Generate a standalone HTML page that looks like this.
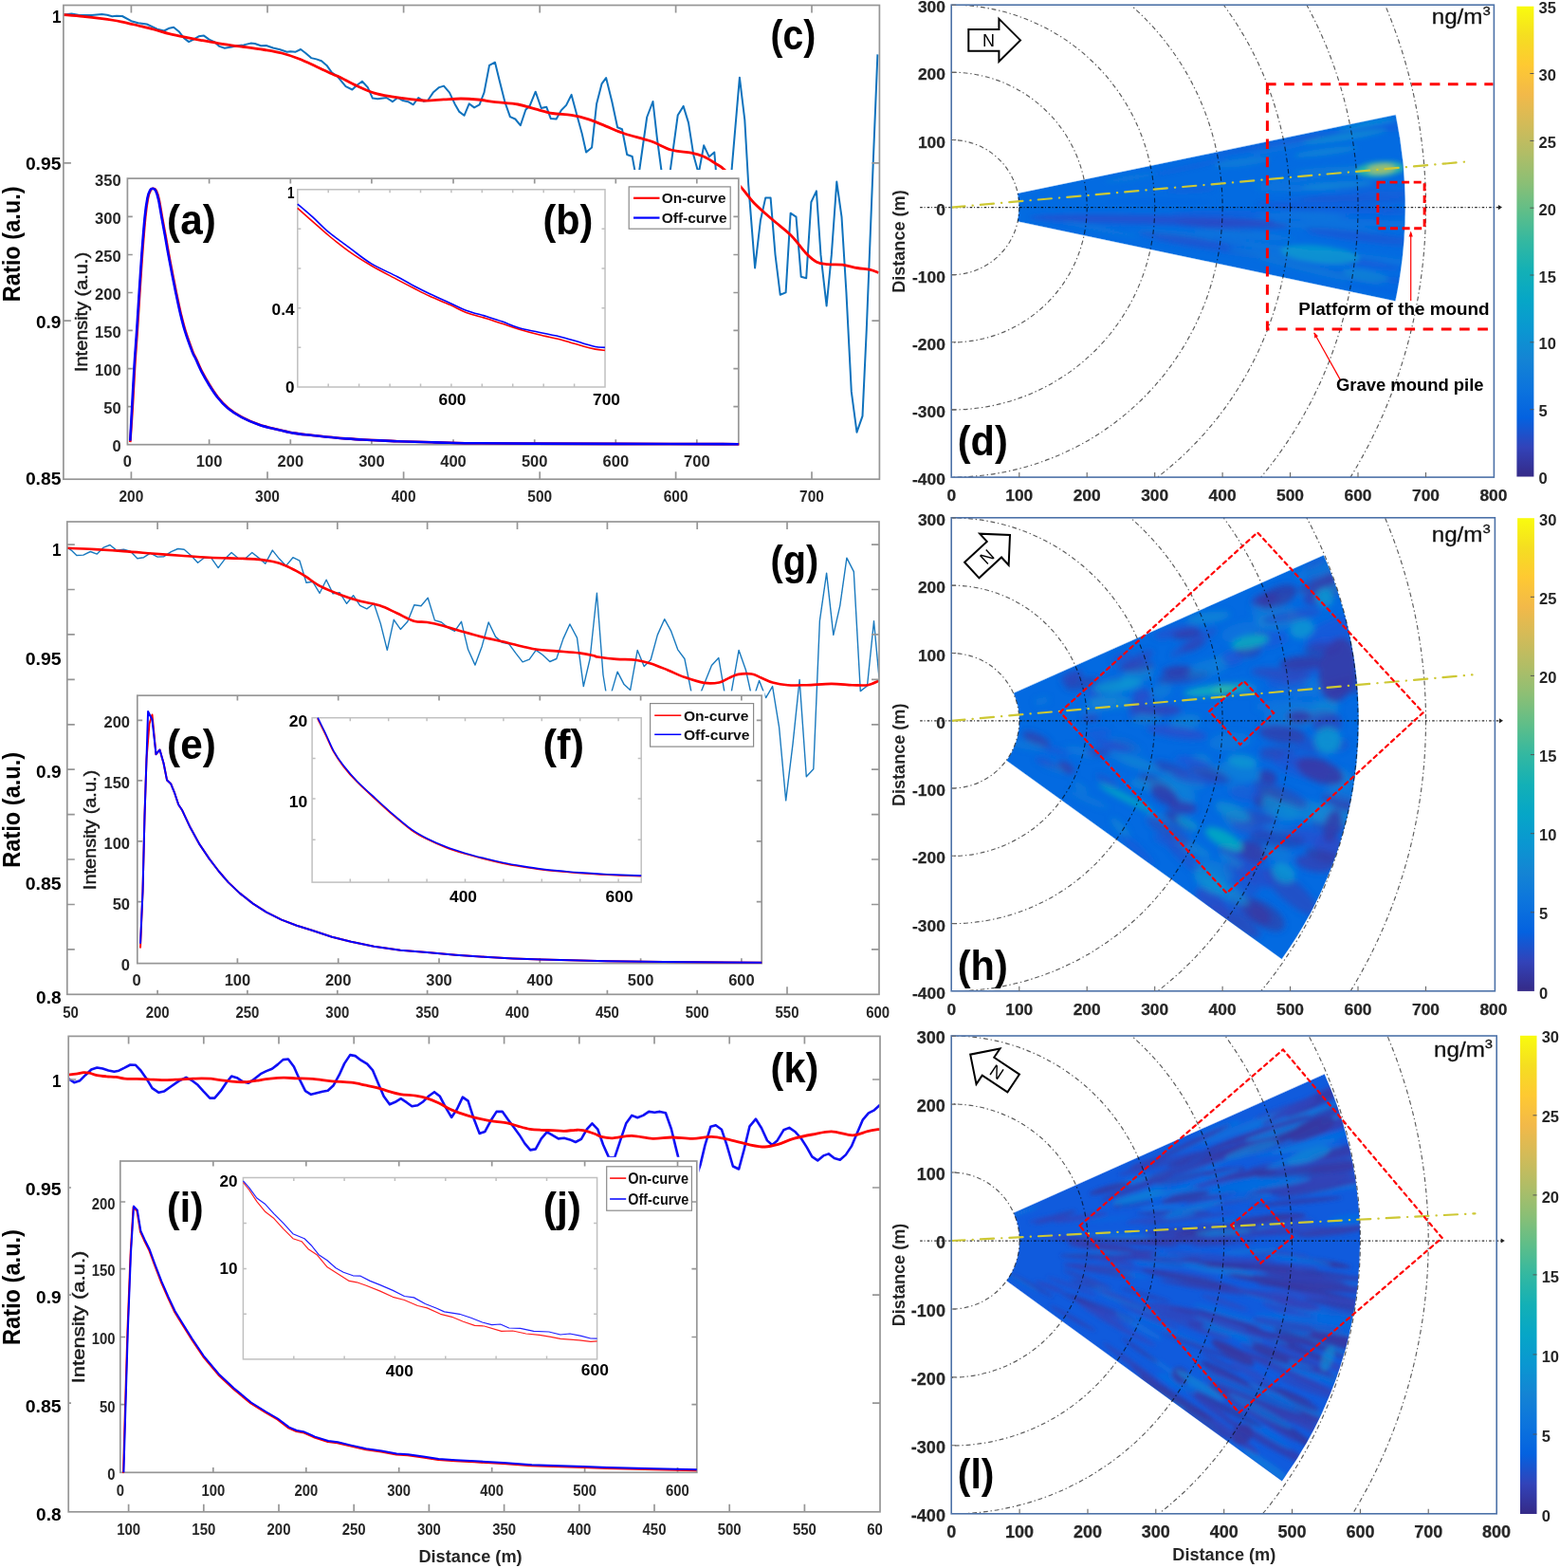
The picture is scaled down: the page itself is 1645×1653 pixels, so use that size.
<!DOCTYPE html>
<html><head><meta charset="utf-8"><title>Figure</title>
<style>
html,body{margin:0;padding:0;background:#fff}
svg{display:block}
text{font-family:"Liberation Sans",sans-serif}
</style></head>
<body>
<svg width="1645" height="1653" viewBox="0 0 1645 1653">
<rect width="1645" height="1653" fill="#fff"/>
<defs>
<clipPath id="cc"><rect x="66.9" y="5.5" width="860.5" height="499.7"/></clipPath>
<clipPath id="ca"><rect x="134.4" y="187.1" width="645.4" height="283.1"/></clipPath>
<clipPath id="cg"><rect x="70.8" y="550.0" width="856.2" height="498.3"/></clipPath>
<clipPath id="ce"><rect x="144.8" y="733.2" width="659.4" height="283.4"/></clipPath>
<clipPath id="ck"><rect x="72.2" y="1092.4" width="855.8" height="501.4"/></clipPath>
<clipPath id="ci"><rect x="126.8" y="1224.0" width="609.0" height="329.3"/></clipPath>
<clipPath id="bxd"><rect x="1003.2" y="5.2" width="572.2" height="497.9"/></clipPath>
<clipPath id="scd"><path d="M1073.0,204.1 L1471.6,121.2 A478.3,478.3 0 0 1 1471.3,317.2 L1073.0,233.3 A71.2,71.2 0 0 0 1073.0,204.1 Z"/></clipPath>
<filter id="bld" x="-20%" y="-20%" width="140%" height="140%"><feGaussianBlur stdDeviation="2.5"/></filter>
<linearGradient id="cbd" x1="0" y1="0" x2="0" y2="1"><stop offset="0.0000" stop-color="#f9fb0e"/><stop offset="0.0625" stop-color="#f5de21"/><stop offset="0.1250" stop-color="#fec932"/><stop offset="0.1875" stop-color="#f2b949"/><stop offset="0.2500" stop-color="#d3bb58"/><stop offset="0.3125" stop-color="#b1bd66"/><stop offset="0.3750" stop-color="#8bbf75"/><stop offset="0.4375" stop-color="#5ebe89"/><stop offset="0.5000" stop-color="#33b8a1"/><stop offset="0.5625" stop-color="#13b0b6"/><stop offset="0.6250" stop-color="#06a6c7"/><stop offset="0.6875" stop-color="#0a97d1"/><stop offset="0.7500" stop-color="#1484d4"/><stop offset="0.8125" stop-color="#0c74dd"/><stop offset="0.8750" stop-color="#0462e0"/><stop offset="0.9375" stop-color="#3243b9"/><stop offset="1.0000" stop-color="#352a87"/></linearGradient>
<clipPath id="bxh"><rect x="1003.2" y="545.8" width="573.2" height="499.0"/></clipPath>
<clipPath id="sch"><path d="M1068.9,730.7 L1395.7,585.5 A429.4,429.4 0 0 1 1351.6,1011.0 L1061.5,801.8 A71.8,71.8 0 0 0 1068.9,730.7 Z"/></clipPath>
<filter id="blh" x="-20%" y="-20%" width="140%" height="140%"><feGaussianBlur stdDeviation="3.4"/></filter>
<linearGradient id="cbh" x1="0" y1="0" x2="0" y2="1"><stop offset="0.0000" stop-color="#f9fb0e"/><stop offset="0.0625" stop-color="#f5de21"/><stop offset="0.1250" stop-color="#fec932"/><stop offset="0.1875" stop-color="#f2b949"/><stop offset="0.2500" stop-color="#d3bb58"/><stop offset="0.3125" stop-color="#b1bd66"/><stop offset="0.3750" stop-color="#8bbf75"/><stop offset="0.4375" stop-color="#5ebe89"/><stop offset="0.5000" stop-color="#33b8a1"/><stop offset="0.5625" stop-color="#13b0b6"/><stop offset="0.6250" stop-color="#06a6c7"/><stop offset="0.6875" stop-color="#0a97d1"/><stop offset="0.7500" stop-color="#1484d4"/><stop offset="0.8125" stop-color="#0c74dd"/><stop offset="0.8750" stop-color="#0462e0"/><stop offset="0.9375" stop-color="#3243b9"/><stop offset="1.0000" stop-color="#352a87"/></linearGradient>
<clipPath id="bxl"><rect x="1003.2" y="1092.0" width="575.0" height="503.8"/></clipPath>
<clipPath id="scl"><path d="M1069.0,1278.7 L1396.7,1132.4 A430.8,430.8 0 0 1 1351.8,1561.2 L1061.5,1350.3 A72.0,72.0 0 0 0 1069.0,1278.7 Z"/></clipPath>
<filter id="bll" x="-20%" y="-20%" width="140%" height="140%"><feGaussianBlur stdDeviation="2.2"/></filter>
<linearGradient id="cbl" x1="0" y1="0" x2="0" y2="1"><stop offset="0.0000" stop-color="#f9fb0e"/><stop offset="0.0625" stop-color="#f5de21"/><stop offset="0.1250" stop-color="#fec932"/><stop offset="0.1875" stop-color="#f2b949"/><stop offset="0.2500" stop-color="#d3bb58"/><stop offset="0.3125" stop-color="#b1bd66"/><stop offset="0.3750" stop-color="#8bbf75"/><stop offset="0.4375" stop-color="#5ebe89"/><stop offset="0.5000" stop-color="#33b8a1"/><stop offset="0.5625" stop-color="#13b0b6"/><stop offset="0.6250" stop-color="#06a6c7"/><stop offset="0.6875" stop-color="#0a97d1"/><stop offset="0.7500" stop-color="#1484d4"/><stop offset="0.8125" stop-color="#0c74dd"/><stop offset="0.8750" stop-color="#0462e0"/><stop offset="0.9375" stop-color="#3243b9"/><stop offset="1.0000" stop-color="#352a87"/></linearGradient>
</defs>
<g clip-path="url(#cc)">
<polyline points="66.9,15.5 75.5,14.6 83.7,16.0 96.5,15.9 107.4,15.1 112.9,15.7 118.4,17.3 122.9,16.8 128.9,17.0 138.4,22.2 145.7,24.3 154.8,25.5 165.8,30.6 173.1,32.5 178.5,29.7 183.1,28.8 188.6,33.2 194.0,40.1 199.1,44.1 204.1,41.6 209.5,38.3 215.0,37.6 220.5,41.6 226.0,44.1 231.4,48.9 236.9,50.7 244.2,49.6 249.7,48.3 257.0,47.4 264.3,45.6 268.8,46.0 275.2,48.3 280.7,48.0 288.0,50.5 295.3,52.3 302.6,54.7 306.2,54.2 311.7,54.7 317.1,52.0 322.6,56.2 328.1,61.1 333.6,62.4 339.0,64.2 344.5,68.9 350.0,76.6 355.4,80.2 364.6,91.2 371.4,94.5 376.5,89.7 381.9,85.7 387.8,92.1 392.9,103.6 398.4,104.3 407.5,103.0 413.9,107.2 419.3,103.0 424.8,106.1 430.3,107.2 435.7,110.3 441.2,103.0 446.7,106.7 451.2,105.8 456.7,97.6 463.1,92.1 468.0,90.6 474.0,97.6 479.5,109.4 484.1,117.6 489.5,121.8 494.7,109.4 500.1,113.4 505.6,110.3 510.5,97.6 516.0,68.9 522.0,65.7 526.9,85.7 532.4,107.6 537.9,123.1 543.3,125.5 548.8,132.2 554.3,115.8 558.8,111.2 564.7,96.7 570.7,114.0 576.2,112.7 580.7,124.9 586.6,125.5 591.7,116.4 597.1,110.9 602.6,99.9 608.1,120.4 613.6,140.4 618.1,160.5 624.1,155.4 629.1,109.4 634.5,88.4 639.1,82.1 645.3,107.0 651.1,134.2 656.0,136.2 661.2,163.0 666.7,165.0 672.1,194.5 682.2,123.5 688.5,107.0 692.9,145.9 702.1,214.0 714.7,121.6 720.6,111.9 726.0,129.4 731.3,163.4 736.7,182.9 742.2,153.3 747.8,165.3 753.3,160.5 760.1,243.2 766.9,233.4 779.9,81.7 785.3,126.4 789.2,194.5 796.1,282.5 801.9,232.5 807.2,208.6 812.6,208.6 817.5,268.5 822.7,310.7 828.6,308.4 833.6,224.7 839.5,228.6 844.7,291.7 850.2,293.2 855.4,213.0 860.9,201.4 865.5,268.9 871.6,322.4 876.8,268.9 882.3,191.6 887.5,228.6 892.4,307.8 897.8,412.9 903.5,455.7 909.5,438.6 913.8,346.7 920.6,175.1 925.4,57.4" fill="none" stroke="#0f72bd" stroke-width="2.0" stroke-linejoin="round" stroke-linecap="butt" />
<path d="M66.9,15.5 C70.3,15.8 80.7,16.6 87.4,17.3 C94.2,18.0 100.7,18.8 107.4,19.7 C114.1,20.6 121.1,21.6 127.5,22.8 C133.9,24.0 139.9,25.6 145.7,27.0 C151.5,28.4 156.6,29.6 162.1,31.0 C167.6,32.4 173.0,34.2 178.5,35.6 C184.0,37.0 189.5,38.1 195.0,39.2 C200.5,40.3 205.9,41.3 211.4,42.3 C216.9,43.3 222.3,44.3 227.8,45.2 C233.3,46.1 238.7,47.0 244.2,47.8 C249.7,48.6 254.8,49.0 260.6,49.8 C266.4,50.6 272.7,51.5 278.8,52.5 C284.9,53.5 291.0,54.4 297.1,56.0 C303.2,57.6 309.2,59.6 315.3,62.0 C321.4,64.4 327.5,67.4 333.6,70.2 C339.7,73.0 347.7,77.0 351.8,78.8 C355.9,80.6 354.1,79.2 358.2,81.2 C362.3,83.2 370.4,87.8 376.5,90.6 C382.6,93.4 388.6,96.2 394.7,98.1 C400.8,100.0 406.8,100.8 412.9,101.8 C419.0,102.8 425.1,103.6 431.2,104.3 C437.3,105.0 443.3,106.0 449.4,106.1 C455.5,106.2 461.6,105.2 467.7,104.9 C473.8,104.6 479.8,104.0 485.9,104.0 C492.0,104.0 498.0,104.4 504.1,105.0 C510.2,105.6 515.4,106.8 522.4,107.6 C529.4,108.4 539.1,108.8 546.1,110.0 C553.1,111.2 558.2,113.3 564.3,114.9 C570.4,116.5 576.2,118.4 582.6,119.5 C589.0,120.6 596.2,120.2 602.6,121.3 C609.0,122.3 614.8,123.8 620.9,125.8 C627.0,127.8 632.8,130.6 639.1,133.1 C645.4,135.6 651.1,138.4 658.9,141.0 C666.7,143.6 678.0,146.0 686.1,148.8 C694.2,151.6 700.4,155.9 707.5,158.0 C714.6,160.1 723.0,159.9 728.9,161.1 C734.8,162.3 738.4,163.5 742.6,165.3 C746.8,167.2 750.6,169.9 754.2,172.2 C757.8,174.5 759.5,174.8 764.0,179.0 C768.5,183.2 776.3,191.6 781.5,197.4 C786.7,203.2 789.6,208.3 795.1,214.0 C800.6,219.7 808.0,225.8 814.5,231.5 C821.0,237.2 828.2,242.2 834.0,248.0 C839.8,253.8 845.0,261.8 849.5,266.5 C854.0,271.2 857.3,274.2 861.2,276.2 C865.1,278.2 868.4,278.1 872.9,278.6 C877.4,279.1 883.2,278.5 888.4,279.1 C893.6,279.8 899.1,281.6 904.0,282.5 C908.9,283.4 913.9,283.6 917.6,284.4 C921.3,285.2 924.9,287.0 926.4,287.5" fill="none" stroke="#ff0000" stroke-width="2.8" stroke-linejoin="round" />
</g>
<rect x="66.9" y="5.5" width="860.5" height="499.7" fill="none" stroke="#969696" stroke-width="1.7"/>
<path d="M138.4,505.2v-8M138.4,5.5v8M282.0,505.2v-8M282.0,5.5v8M425.6,505.2v-8M425.6,5.5v8M569.2,505.2v-8M569.2,5.5v8M712.6,505.2v-8M712.6,5.5v8M856.0,505.2v-8M856.0,5.5v8M66.9,171.8h8M927.4,171.8h-8M66.9,338.1h8M927.4,338.1h-8" stroke="#969696" stroke-width="1.7" fill="none"/>
<text transform="translate(138.4,529.4) scale(0.92,1)" font-size="16.8" font-weight="bold" text-anchor="middle" fill="#262626">200</text>
<text transform="translate(282.0,529.4) scale(0.92,1)" font-size="16.8" font-weight="bold" text-anchor="middle" fill="#262626">300</text>
<text transform="translate(425.6,529.4) scale(0.92,1)" font-size="16.8" font-weight="bold" text-anchor="middle" fill="#262626">400</text>
<text transform="translate(569.2,529.4) scale(0.92,1)" font-size="16.8" font-weight="bold" text-anchor="middle" fill="#262626">500</text>
<text transform="translate(712.6,529.4) scale(0.92,1)" font-size="16.8" font-weight="bold" text-anchor="middle" fill="#262626">600</text>
<text transform="translate(856.0,529.4) scale(0.92,1)" font-size="16.8" font-weight="bold" text-anchor="middle" fill="#262626">700</text>
<text x="54.900000000000006" y="24.3" font-size="17.6" font-weight="bold" fill="#000" textLength="9.5" lengthAdjust="spacingAndGlyphs">1</text>
<text x="26.900000000000006" y="178.6" font-size="17.6" font-weight="bold" fill="#000" textLength="37.5" lengthAdjust="spacingAndGlyphs">0.95</text>
<text x="37.900000000000006" y="345.6" font-size="17.6" font-weight="bold" fill="#000" textLength="26.5" lengthAdjust="spacingAndGlyphs">0.9</text>
<text x="26.900000000000006" y="510.6" font-size="17.6" font-weight="bold" fill="#000" textLength="37.5" lengthAdjust="spacingAndGlyphs">0.85</text>
<text transform="translate(20.6,257.3) rotate(-90)" font-size="26" font-weight="bold" text-anchor="middle" fill="#000000" textLength="122" lengthAdjust="spacingAndGlyphs">Ratio (a.u.)</text>
<text x="812.6" y="51.5" font-size="45" font-weight="bold" fill="#000" textLength="47.7" lengthAdjust="spacingAndGlyphs">(c)</text>
<rect x="76" y="179" width="705.3" height="317" fill="#fff"/>
<rect x="134.4" y="188.1" width="644.4" height="280.6" fill="none" stroke="#969696" stroke-width="1.7"/>
<path d="M220.6,468.7v-5.4M220.6,188.1v5.4M306.3,468.7v-5.4M306.3,188.1v5.4M391.9,468.7v-5.4M391.9,188.1v5.4M478.0,468.7v-5.4M478.0,188.1v5.4M563.7,468.7v-5.4M563.7,188.1v5.4M649.3,468.7v-5.4M649.3,188.1v5.4M734.8,468.7v-5.4M734.8,188.1v5.4M134.4,228.4h5.4M778.8,228.4h-5.4M134.4,268.5h5.4M778.8,268.5h-5.4M134.4,308.5h5.4M778.8,308.5h-5.4M134.4,348.3h5.4M778.8,348.3h-5.4M134.4,388.6h5.4M778.8,388.6h-5.4M134.4,428.7h5.4M778.8,428.7h-5.4" stroke="#969696" stroke-width="1.7" fill="none"/>
<g clip-path="url(#ca)">
<path d="M137.3,466.1 C137.7,460.2 138.9,443.4 139.7,430.5 C140.5,417.6 141.2,402.4 142.0,388.7 C142.8,375.0 143.9,361.7 144.8,348.4 C145.7,335.1 146.4,322.2 147.3,308.9 C148.2,295.6 149.0,282.0 150.0,268.6 C151.0,255.2 152.3,238.4 153.3,228.5 C154.3,218.6 155.1,213.7 156.0,209.0 C156.9,204.3 157.9,202.0 158.9,200.3 C159.9,198.6 160.8,198.6 161.8,198.7 C162.8,198.8 163.7,198.9 164.7,200.9 C165.7,202.9 166.8,206.3 167.8,210.9 C168.8,215.5 169.8,222.3 170.9,228.5 C172.0,234.7 173.3,241.4 174.5,248.1 C175.7,254.8 176.8,261.8 178.1,268.6 C179.3,275.4 180.7,282.2 182.0,288.9 C183.3,295.6 184.6,302.1 186.0,308.9 C187.4,315.7 188.9,323.1 190.5,329.7 C192.1,336.3 193.3,341.6 195.4,348.4 C197.5,355.2 201.3,365.6 203.2,370.6 C205.1,375.6 205.3,374.9 207.0,378.5 C208.7,382.1 211.1,387.9 213.4,392.4 C215.7,396.8 218.0,400.8 220.7,405.2 C223.4,409.6 226.5,414.5 229.8,418.7 C233.1,422.9 236.4,426.7 240.7,430.2 C244.9,433.7 249.8,436.9 255.3,439.8 C260.8,442.7 267.5,445.6 273.6,447.7 C279.7,449.8 285.7,451.1 291.8,452.6 C297.9,454.1 303.9,455.6 310.0,456.6 C316.1,457.6 322.2,458.1 328.3,458.8 C334.4,459.5 340.4,460.2 346.5,460.8 C352.6,461.4 358.6,461.9 364.7,462.4 C370.8,462.8 376.9,463.2 383.0,463.5 C389.1,463.8 395.1,464.1 401.2,464.4 C407.3,464.7 413.4,465.0 419.5,465.2 C425.6,465.4 431.6,465.5 437.7,465.7 C443.8,465.9 449.8,466.1 455.9,466.3 C462.0,466.5 466.8,466.7 474.2,466.8 C481.7,466.9 486.2,467.1 500.6,467.2 C515.0,467.3 535.6,467.5 560.6,467.6 C585.6,467.7 614.1,467.8 650.6,467.9 C687.1,468.0 757.9,468.1 779.4,468.2" fill="none" stroke="#ff0000" stroke-width="2.6" stroke-linejoin="round" />
<path d="M137.3,464.6 C137.6,458.9 138.4,443.1 139.1,430.5 C139.8,417.9 140.6,402.4 141.4,388.7 C142.2,375.0 143.3,361.7 144.2,348.4 C145.1,335.1 145.8,322.2 146.7,308.9 C147.6,295.6 148.4,282.0 149.4,268.6 C150.4,255.2 151.7,238.4 152.7,228.5 C153.7,218.6 154.5,213.7 155.4,209.0 C156.3,204.3 157.3,202.0 158.3,200.3 C159.3,198.6 160.2,198.6 161.2,198.7 C162.2,198.8 163.1,198.9 164.1,200.9 C165.1,202.9 166.2,206.3 167.2,210.9 C168.2,215.5 169.2,222.3 170.3,228.5 C171.4,234.7 172.7,241.4 173.9,248.1 C175.1,254.8 176.2,261.8 177.5,268.6 C178.8,275.4 180.1,282.2 181.4,288.9 C182.7,295.6 184.0,302.1 185.4,308.9 C186.8,315.7 188.3,323.1 189.9,329.7 C191.5,336.3 192.7,341.6 194.8,348.4 C196.9,355.2 200.7,365.6 202.6,370.6 C204.5,375.6 204.7,374.9 206.4,378.5 C208.1,382.1 210.5,387.9 212.8,392.4 C215.1,396.8 217.4,400.8 220.1,405.2 C222.8,409.6 225.9,414.5 229.2,418.7 C232.5,422.9 235.8,426.7 240.1,430.2 C244.3,433.7 249.2,436.9 254.7,439.8 C260.2,442.7 266.9,445.6 273.0,447.7 C279.1,449.8 285.1,451.1 291.2,452.6 C297.3,454.1 303.3,455.6 309.4,456.6 C315.5,457.6 321.6,458.1 327.7,458.8 C333.8,459.5 339.8,460.2 345.9,460.8 C352.0,461.4 358.0,461.9 364.1,462.4 C370.2,462.8 376.3,463.2 382.4,463.5 C388.5,463.8 394.5,464.1 400.6,464.4 C406.7,464.7 412.8,465.0 418.9,465.2 C425.0,465.4 431.0,465.5 437.1,465.7 C443.2,465.9 449.2,466.1 455.3,466.3 C461.4,466.5 466.2,466.7 473.6,466.8 C481.1,466.9 485.6,467.1 500.0,467.2 C514.4,467.3 535.0,467.5 560.0,467.6 C585.0,467.7 613.5,467.8 650.0,467.9 C686.5,468.0 757.3,468.1 778.8,468.2" fill="none" stroke="#0000ff" stroke-width="2.6" stroke-linejoin="round" />
</g>
<text x="134.4" y="492.2" font-size="16.5" font-weight="bold" text-anchor="middle" fill="#262626">0</text>
<text x="220.6" y="492.2" font-size="16.5" font-weight="bold" text-anchor="middle" fill="#262626">100</text>
<text x="306.3" y="492.2" font-size="16.5" font-weight="bold" text-anchor="middle" fill="#262626">200</text>
<text x="391.9" y="492.2" font-size="16.5" font-weight="bold" text-anchor="middle" fill="#262626">300</text>
<text x="478.0" y="492.2" font-size="16.5" font-weight="bold" text-anchor="middle" fill="#262626">400</text>
<text x="563.7" y="492.2" font-size="16.5" font-weight="bold" text-anchor="middle" fill="#262626">500</text>
<text x="649.3" y="492.2" font-size="16.5" font-weight="bold" text-anchor="middle" fill="#262626">600</text>
<text x="734.8" y="492.2" font-size="16.5" font-weight="bold" text-anchor="middle" fill="#262626">700</text>
<text x="127.6" y="195.5" font-size="16.5" font-weight="bold" text-anchor="end" fill="#262626">350</text>
<text x="127.6" y="235.8" font-size="16.5" font-weight="bold" text-anchor="end" fill="#262626">300</text>
<text x="127.6" y="275.9" font-size="16.5" font-weight="bold" text-anchor="end" fill="#262626">250</text>
<text x="127.6" y="315.9" font-size="16.5" font-weight="bold" text-anchor="end" fill="#262626">200</text>
<text x="127.6" y="355.7" font-size="16.5" font-weight="bold" text-anchor="end" fill="#262626">150</text>
<text x="127.6" y="396.0" font-size="16.5" font-weight="bold" text-anchor="end" fill="#262626">100</text>
<text x="127.6" y="436.1" font-size="16.5" font-weight="bold" text-anchor="end" fill="#262626">50</text>
<text x="127.6" y="476.1" font-size="16.5" font-weight="bold" text-anchor="end" fill="#262626">0</text>
<text transform="translate(91.6,329.0) rotate(-90)" font-size="19" font-weight="normal" text-anchor="middle" fill="#1a1a1a" stroke="#1a1a1a" stroke-width="0.45" textLength="126" lengthAdjust="spacingAndGlyphs">Intensity (a.u.)</text>
<text x="176.1" y="247.0" font-size="45" font-weight="bold" fill="#000" textLength="51.6" lengthAdjust="spacingAndGlyphs">(a)</text>
<rect x="663.2" y="196.9" width="107.0" height="44.3" fill="#fff" stroke="#8a8a8a" stroke-width="1.2"/>
<path d="M668,208.8H695.5" stroke="#ff0000" stroke-width="2.2"/>
<path d="M668,229.6H695.5" stroke="#0000ff" stroke-width="2.2"/>
<text x="697.8" y="214.3" font-size="15.4" font-weight="bold" fill="#111" textLength="67.7" lengthAdjust="spacingAndGlyphs">On-curve</text>
<text x="697.8" y="235.1" font-size="15.4" font-weight="bold" fill="#111" textLength="68.7" lengthAdjust="spacingAndGlyphs">Off-curve</text>
<rect x="313.8" y="199.8" width="324.2" height="208.2" fill="none" stroke="#c0c0c0" stroke-width="1.5"/>
<path d="M346.2,408.0v-3.5M346.2,199.8v3.5M378.6,408.0v-3.5M378.6,199.8v3.5M411.1,408.0v-3.5M411.1,199.8v3.5M443.5,408.0v-3.5M443.5,199.8v3.5M475.9,408.0v-3.5M475.9,199.8v3.5M508.3,408.0v-3.5M508.3,199.8v3.5M540.7,408.0v-3.5M540.7,199.8v3.5M573.2,408.0v-3.5M573.2,199.8v3.5M605.6,408.0v-3.5M605.6,199.8v3.5M313.8,241.3h3.5M638.0,241.3h-3.5M313.8,282.9h3.5M638.0,282.9h-3.5M313.8,324.8h3.5M638.0,324.8h-3.5M313.8,366.3h3.5M638.0,366.3h-3.5" stroke="#c0c0c0" stroke-width="1.5" fill="none"/>
<path d="M313.8,219.4 C316.5,221.8 324.3,228.8 329.8,233.6 C335.3,238.4 340.4,243.2 346.8,248.5 C353.2,253.8 360.7,259.9 368.1,265.1 C375.6,270.4 383.0,275.0 391.5,280.0 C400.0,285.0 411.7,290.9 419.1,294.9 C426.6,298.9 430.5,300.9 436.2,303.8 C441.9,306.7 446.8,309.4 453.2,312.3 C459.6,315.2 468.1,318.5 474.5,321.3 C480.9,324.1 485.1,327.0 491.5,329.4 C497.9,331.8 506.4,333.7 512.8,335.7 C519.2,337.7 524.1,339.4 529.8,341.3 C535.5,343.2 540.4,345.1 546.8,347.0 C553.2,348.9 560.3,350.9 568.1,352.8 C575.9,354.8 585.8,356.6 593.6,358.7 C601.4,360.8 609.2,363.5 614.9,365.1 C620.6,366.7 623.9,367.4 627.7,368.1 C631.5,368.8 636.2,369.2 637.9,369.4" fill="none" stroke="#ff0000" stroke-width="1.6" stroke-linejoin="round" />
<path d="M313.8,215.1 C316.5,217.4 324.3,223.9 329.8,228.9 C335.3,233.9 340.4,239.6 346.8,244.9 C353.2,250.2 360.7,255.4 368.1,260.9 C375.6,266.4 383.0,272.8 391.5,277.9 C400.0,283.0 411.7,287.8 419.1,291.7 C426.6,295.6 430.5,298.3 436.2,301.3 C441.9,304.3 446.8,306.8 453.2,309.8 C459.6,312.8 468.1,316.5 474.5,319.4 C480.9,322.3 485.1,324.8 491.5,327.2 C497.9,329.6 506.4,331.6 512.8,333.6 C519.2,335.6 524.1,337.1 529.8,339.1 C535.5,341.1 540.4,343.6 546.8,345.5 C553.2,347.4 560.3,348.5 568.1,350.2 C575.9,351.9 585.8,353.8 593.6,355.7 C601.4,357.6 609.2,360.3 614.9,361.9 C620.6,363.5 623.9,364.8 627.7,365.5 C631.5,366.2 636.2,366.2 637.9,366.4" fill="none" stroke="#0000ff" stroke-width="1.6" stroke-linejoin="round" />
<text x="303.1" y="208.6" font-size="16.5" font-weight="bold" fill="#000" textLength="7.5" lengthAdjust="spacingAndGlyphs">1</text>
<text x="286.6" y="332.4" font-size="16.5" font-weight="bold" fill="#000" textLength="24" lengthAdjust="spacingAndGlyphs">0.4</text>
<text x="301.1" y="414.2" font-size="16.5" font-weight="bold" fill="#000" textLength="9.5" lengthAdjust="spacingAndGlyphs">0</text>
<text x="462.5" y="427.2" font-size="16.8" font-weight="bold" fill="#000" textLength="29" lengthAdjust="spacingAndGlyphs">600</text>
<text x="625.0" y="427.2" font-size="16.8" font-weight="bold" fill="#000" textLength="29" lengthAdjust="spacingAndGlyphs">700</text>
<text x="572.5" y="246.5" font-size="45" font-weight="bold" fill="#000" textLength="52.9" lengthAdjust="spacingAndGlyphs">(b)</text>
<g clip-path="url(#cg)">
<polyline points="70.8,577.1 75.2,580.1 80.8,585.5 87.9,585.1 95.3,581.5 102.3,584.1 109.3,577.1 116.0,574.5 122.8,580.1 130.4,579.1 137.4,581.1 144.8,588.7 151.5,587.7 158.5,583.1 166.1,587.1 172.9,586.7 180.5,581.7 187.6,578.5 194.2,579.3 201.6,585.7 208.6,593.2 215.7,587.7 222.7,588.1 230.1,598.6 237.3,589.1 244.1,582.5 251.4,588.7 258.8,588.7 265.8,582.5 272.8,588.1 279.8,594.2 287.3,580.1 294.5,589.1 301.5,596.6 308.9,587.7 316.0,591.2 323.0,614.2 329.7,613.2 337.1,625.3 344.1,611.2 351.1,625.9 358.1,624.7 365.6,636.3 372.6,627.7 379.6,638.3 386.8,641.9 394.3,636.3 401.3,657.4 408.3,685.4 415.3,653.3 422.3,663.4 429.8,655.3 436.8,637.7 444.0,638.7 451.2,630.3 458.4,653.9 465.5,656.0 472.5,661.8 479.5,665.4 486.5,655.3 493.6,684.8 501.0,701.1 508.2,681.4 515.2,656.0 522.6,671.4 529.7,677.4 536.7,678.8 543.7,688.4 551.1,697.9 558.2,695.1 565.2,685.4 572.4,690.5 579.8,697.5 586.8,694.5 593.9,673.4 600.9,658.0 608.5,672.4 615.3,723.6 622.1,694.5 629.4,625.3 636.0,711.5 641.1,742.6 651.1,708.1 658.1,721.6 664.6,727.6 672.2,685.4 679.2,702.5 686.2,695.5 693.3,669.4 700.7,652.7 707.7,665.4 714.7,684.8 721.9,694.5 732.4,746.6 750.4,701.5 757.8,693.5 767.5,750.6 779.1,685.4 786.5,706.5 793.6,738.6 800.6,717.5 807.6,735.6 814.6,723.6 821.6,766.7 828.7,843.9 836.1,783.7 843.1,716.5 850.3,818.8 857.8,810.8 864.4,654.3 871.6,604.2 878.8,669.4 885.8,638.3 892.9,588.1 900.3,602.6 907.3,728.6 914.5,723.0 921.5,654.7 927.0,714.5" fill="none" stroke="#1a7abf" stroke-width="1.4" stroke-linejoin="round" stroke-linecap="butt" />
<path d="M70.8,577.7 C75.7,577.9 90.4,578.5 100.3,579.1 C110.2,579.7 120.4,580.4 130.4,581.1 C140.4,581.8 150.5,582.7 160.5,583.5 C170.5,584.3 180.6,585.0 190.6,585.7 C200.6,586.4 210.7,587.2 220.7,587.7 C230.7,588.2 242.5,588.4 250.8,588.7 C259.2,589.0 264.5,589.0 270.8,589.6 C277.1,590.2 283.9,591.1 288.9,592.2 C293.9,593.3 296.9,594.5 300.9,596.2 C304.9,597.9 309.2,600.2 312.9,602.2 C316.6,604.2 318.8,605.5 323.0,608.2 C327.2,610.9 332.2,615.1 338.1,618.2 C344.0,621.3 351.4,624.2 358.1,626.7 C364.8,629.2 371.2,631.4 378.2,633.3 C385.2,635.2 393.6,636.1 400.3,638.3 C407.0,640.5 412.3,643.6 418.3,646.3 C424.3,649.0 431.0,653.1 436.4,654.7 C441.8,656.3 445.4,655.2 450.4,656.0 C455.4,656.8 460.5,657.8 466.5,659.4 C472.5,661.0 479.1,663.3 486.5,665.4 C493.9,667.5 502.6,670.0 510.6,672.0 C518.6,674.0 528.0,675.8 534.7,677.4 C541.4,679.0 545.4,680.2 550.7,681.4 C556.1,682.6 560.8,684.0 566.8,684.8 C572.8,685.6 579.4,685.8 586.8,686.4 C594.1,687.0 604.2,687.5 610.9,688.4 C617.6,689.2 623.8,690.8 627.0,691.5 C630.2,692.2 626.2,691.9 630.1,692.5 C634.0,693.1 643.4,694.4 650.1,694.9 C656.8,695.4 664.2,694.9 670.2,695.7 C676.2,696.5 680.5,697.7 686.2,699.5 C691.9,701.3 698.3,704.1 704.3,706.5 C710.3,708.9 715.9,711.9 722.3,714.1 C728.6,716.3 736.4,719.0 742.4,719.9 C748.4,720.8 754.0,720.3 758.4,719.5 C762.8,718.7 765.1,716.3 768.5,714.9 C771.9,713.5 774.5,711.6 778.5,710.9 C782.5,710.2 788.6,709.9 792.6,710.5 C796.6,711.1 798.9,713.0 802.6,714.5 C806.3,716.0 809.9,718.2 814.6,719.5 C819.3,720.8 824.7,721.8 830.7,722.2 C836.7,722.7 843.0,722.4 850.7,722.2 C858.4,722.0 868.8,720.9 876.8,720.9 C884.8,720.9 892.5,722.0 898.9,722.2 C905.2,722.4 910.2,723.0 914.9,722.2 C919.6,721.4 925.0,718.3 927.0,717.5" fill="none" stroke="#ff0000" stroke-width="2.6" stroke-linejoin="round" />
</g>
<rect x="70.8" y="550.0" width="856.2" height="498.3" fill="none" stroke="#969696" stroke-width="1.7"/>
<path d="M166.1,1048.3v-8M166.1,550.0v8M260.9,1048.3v-8M260.9,550.0v8M355.8,1048.3v-8M355.8,550.0v8M450.6,1048.3v-8M450.6,550.0v8M545.5,1048.3v-8M545.5,550.0v8M640.4,1048.3v-8M640.4,550.0v8M735.2,1048.3v-8M735.2,550.0v8M830.0,1048.3v-8M830.0,550.0v8M70.8,574.1h8M927.0,574.1h-8M70.8,621.5h8M927.0,621.5h-8M70.8,668.9h8M927.0,668.9h-8M70.8,716.4h8M927.0,716.4h-8M70.8,763.8h8M927.0,763.8h-8M70.8,811.2h8M927.0,811.2h-8M70.8,858.6h8M927.0,858.6h-8M70.8,906.0h8M927.0,906.0h-8M70.8,953.5h8M927.0,953.5h-8M70.8,1000.9h8M927.0,1000.9h-8" stroke="#969696" stroke-width="1.7" fill="none"/>
<text transform="translate(74.6,1073.2) scale(0.89,1)" font-size="16.8" font-weight="bold" text-anchor="middle" fill="#262626">50</text>
<text transform="translate(166.1,1073.2) scale(0.89,1)" font-size="16.8" font-weight="bold" text-anchor="middle" fill="#262626">200</text>
<text transform="translate(260.9,1073.2) scale(0.89,1)" font-size="16.8" font-weight="bold" text-anchor="middle" fill="#262626">250</text>
<text transform="translate(355.8,1073.2) scale(0.89,1)" font-size="16.8" font-weight="bold" text-anchor="middle" fill="#262626">300</text>
<text transform="translate(450.6,1073.2) scale(0.89,1)" font-size="16.8" font-weight="bold" text-anchor="middle" fill="#262626">350</text>
<text transform="translate(545.5,1073.2) scale(0.89,1)" font-size="16.8" font-weight="bold" text-anchor="middle" fill="#262626">400</text>
<text transform="translate(640.4,1073.2) scale(0.89,1)" font-size="16.8" font-weight="bold" text-anchor="middle" fill="#262626">450</text>
<text transform="translate(735.2,1073.2) scale(0.89,1)" font-size="16.8" font-weight="bold" text-anchor="middle" fill="#262626">500</text>
<text transform="translate(830.0,1073.2) scale(0.89,1)" font-size="16.8" font-weight="bold" text-anchor="middle" fill="#262626">550</text>
<text transform="translate(925.6,1073.2) scale(0.89,1)" font-size="16.8" font-weight="bold" text-anchor="middle" fill="#262626">600</text>
<text x="55.099999999999994" y="585.8" font-size="17.6" font-weight="bold" fill="#000" textLength="9.5" lengthAdjust="spacingAndGlyphs">1</text>
<text x="26.699999999999996" y="700.8" font-size="17.6" font-weight="bold" fill="#000" textLength="37.9" lengthAdjust="spacingAndGlyphs">0.95</text>
<text x="38.099999999999994" y="819.5" font-size="17.6" font-weight="bold" fill="#000" textLength="26.5" lengthAdjust="spacingAndGlyphs">0.9</text>
<text x="26.699999999999996" y="937.8" font-size="17.6" font-weight="bold" fill="#000" textLength="37.9" lengthAdjust="spacingAndGlyphs">0.85</text>
<text x="38.099999999999994" y="1058.2" font-size="17.6" font-weight="bold" fill="#000" textLength="26.5" lengthAdjust="spacingAndGlyphs">0.8</text>
<text transform="translate(20.6,853.8) rotate(-90)" font-size="26" font-weight="bold" text-anchor="middle" fill="#000000" textLength="122" lengthAdjust="spacingAndGlyphs">Ratio (a.u.)</text>
<text x="812.6" y="606.0" font-size="45" font-weight="bold" fill="#000" textLength="50.6" lengthAdjust="spacingAndGlyphs">(g)</text>
<rect x="80" y="728.4" width="726.5" height="315.4" fill="#fff"/>
<rect x="144.8" y="733.2" width="658.4" height="282.4" fill="none" stroke="#969696" stroke-width="1.7"/>
<path d="M250.4,1015.6v-5.4M250.4,733.2v5.4M356.7,1015.6v-5.4M356.7,733.2v5.4M463.0,1015.6v-5.4M463.0,733.2v5.4M569.3,1015.6v-5.4M569.3,733.2v5.4M675.6,1015.6v-5.4M675.6,733.2v5.4M781.9,1015.6v-5.4M781.9,733.2v5.4M144.8,759.3h5.4M803.2,759.3h-5.4M144.8,822.9h5.4M803.2,822.9h-5.4M144.8,886.8h5.4M803.2,886.8h-5.4M144.8,950.6h5.4M803.2,950.6h-5.4" stroke="#969696" stroke-width="1.7" fill="none"/>
<g clip-path="url(#ce)">
<polyline points="148.0,999.5 150.5,940.0 152.5,860.0 154.5,800.0 157.5,763.0 160.5,753.5 164.5,795.2 168.5,790.5 172.5,804.5 176.1,822.6 180.1,826.2 184.2,836.2 188.2,848.3 192.2,854.3 200.6,872.3 210.6,890.4 220.7,905.4 230.7,918.5 240.7,930.1 252.8,941.6 266.8,952.6 280.9,961.6 296.9,969.6 312.9,975.7 329.0,980.7 350.1,987.7 370.2,992.7 394.3,997.7 422.3,1001.7 450.4,1004.1 480.5,1006.7 510.6,1008.8 540.7,1010.4 570.8,1011.4 600.9,1012.2 640.0,1013.2 700.0,1014.0 803.2,1014.8" fill="none" stroke="#ff0000" stroke-width="2.0" stroke-linejoin="round" stroke-linecap="butt" />
<polyline points="148.0,994.7 150.5,940.0 152.5,860.0 154.5,800.0 156.1,750.0 160.5,758.7 164.5,795.2 168.5,790.5 172.5,804.5 176.1,822.6 180.1,826.2 184.2,836.2 188.2,848.3 192.2,854.3 200.6,872.3 210.6,890.4 220.7,905.4 230.7,918.5 240.7,930.1 252.8,941.6 266.8,952.6 280.9,961.6 296.9,969.6 312.9,975.7 329.0,980.7 350.1,987.7 370.2,992.7 394.3,997.7 422.3,1001.7 450.4,1004.1 480.5,1006.7 510.6,1008.8 540.7,1010.4 570.8,1011.4 600.9,1012.2 640.0,1013.2 700.0,1014.0 803.2,1014.8" fill="none" stroke="#0000ff" stroke-width="2.0" stroke-linejoin="round" stroke-linecap="butt" />
</g>
<text x="144.2" y="1039.3" font-size="16.5" font-weight="bold" text-anchor="middle" fill="#262626">0</text>
<text x="250.4" y="1039.3" font-size="16.5" font-weight="bold" text-anchor="middle" fill="#262626">100</text>
<text x="356.7" y="1039.3" font-size="16.5" font-weight="bold" text-anchor="middle" fill="#262626">200</text>
<text x="463.0" y="1039.3" font-size="16.5" font-weight="bold" text-anchor="middle" fill="#262626">300</text>
<text x="569.3" y="1039.3" font-size="16.5" font-weight="bold" text-anchor="middle" fill="#262626">400</text>
<text x="675.6" y="1039.3" font-size="16.5" font-weight="bold" text-anchor="middle" fill="#262626">500</text>
<text x="781.9" y="1039.3" font-size="16.5" font-weight="bold" text-anchor="middle" fill="#262626">600</text>
<text x="137.0" y="766.6" font-size="16.5" font-weight="bold" text-anchor="end" fill="#262626">200</text>
<text x="137.0" y="830.5" font-size="16.5" font-weight="bold" text-anchor="end" fill="#262626">150</text>
<text x="137.0" y="894.7" font-size="16.5" font-weight="bold" text-anchor="end" fill="#262626">100</text>
<text x="137.0" y="958.9" font-size="16.5" font-weight="bold" text-anchor="end" fill="#262626">50</text>
<text x="137.0" y="1022.5" font-size="16.5" font-weight="bold" text-anchor="end" fill="#262626">0</text>
<text transform="translate(100.8,875.0) rotate(-90)" font-size="19" font-weight="normal" text-anchor="middle" fill="#1a1a1a" stroke="#1a1a1a" stroke-width="0.45" textLength="126.3" lengthAdjust="spacingAndGlyphs">Intensity (a.u.)</text>
<text x="176.1" y="799.5" font-size="45" font-weight="bold" fill="#000" textLength="51.6" lengthAdjust="spacingAndGlyphs">(e)</text>
<rect x="685.6" y="741.6" width="109.0" height="45.5" fill="#fff" stroke="#8a8a8a" stroke-width="1.2"/>
<path d="M690.2,754.2H718.3" stroke="#ff0000" stroke-width="1.5"/>
<path d="M690.2,774.3H718.3" stroke="#0000ff" stroke-width="1.5"/>
<text x="720.9" y="759.7" font-size="15.4" font-weight="bold" fill="#111" textLength="68.6" lengthAdjust="spacingAndGlyphs">On-curve</text>
<text x="720.9" y="779.8" font-size="15.4" font-weight="bold" fill="#111" textLength="69.6" lengthAdjust="spacingAndGlyphs">Off-curve</text>
<rect x="329.1" y="756.7" width="347.1" height="173.4" fill="none" stroke="#c0c0c0" stroke-width="1.5"/>
<path d="M369.3,930.1v-3.5M369.3,756.7v3.5M409.7,930.1v-3.5M409.7,756.7v3.5M450.1,930.1v-3.5M450.1,756.7v3.5M490.5,930.1v-3.5M490.5,756.7v3.5M530.9,930.1v-3.5M530.9,756.7v3.5M571.3,930.1v-3.5M571.3,756.7v3.5M611.7,930.1v-3.5M611.7,756.7v3.5M652.1,930.1v-3.5M652.1,756.7v3.5M329.1,799.6h3.5M676.2,799.6h-3.5M329.1,842.1h3.5M676.2,842.1h-3.5M329.1,885.3h3.5M676.2,885.3h-3.5" stroke="#c0c0c0" stroke-width="1.5" fill="none"/>
<path d="M334.8,757.3 C336.3,760.4 341.0,769.7 343.8,775.6 C346.6,781.5 348.8,787.4 351.8,792.7 C354.8,798.1 357.9,802.5 361.9,807.7 C365.9,812.9 370.5,818.3 375.9,823.8 C381.2,829.3 387.6,835.0 394.0,840.8 C400.4,846.7 407.3,853.1 414.0,858.9 C420.7,864.6 428.1,871.0 434.1,875.3 C440.1,879.6 444.1,881.6 450.1,884.6 C456.1,887.6 463.5,890.8 470.2,893.4 C476.9,896.0 483.5,898.0 490.2,900.0 C496.9,902.0 503.6,903.7 510.3,905.4 C517.0,907.1 523.7,908.7 530.4,910.1 C537.1,911.5 543.7,912.6 550.4,913.7 C557.1,914.8 563.8,915.9 570.5,916.7 C577.2,917.5 583.9,918.1 590.6,918.7 C597.3,919.3 602.4,919.9 610.6,920.5 C618.8,921.1 628.8,921.8 639.7,922.3 C650.6,922.8 669.9,923.5 675.9,923.7" fill="none" stroke="#ff0000" stroke-width="1.6" stroke-linejoin="round" />
<path d="M335.1,756.7 C336.6,759.8 341.3,769.1 344.1,775.0 C346.9,780.9 349.1,786.8 352.1,792.1 C355.1,797.5 358.2,801.9 362.2,807.1 C366.2,812.3 370.8,817.7 376.2,823.2 C381.6,828.7 387.9,834.4 394.3,840.2 C400.7,846.1 407.6,852.5 414.3,858.3 C421.0,864.0 428.4,870.4 434.4,874.7 C440.4,879.0 444.4,881.0 450.4,884.0 C456.4,887.0 463.8,890.2 470.5,892.8 C477.2,895.4 483.8,897.4 490.5,899.4 C497.2,901.4 503.9,903.1 510.6,904.8 C517.3,906.5 524.0,908.1 530.7,909.5 C537.4,910.9 544.0,912.0 550.7,913.1 C557.4,914.2 564.1,915.3 570.8,916.1 C577.5,916.9 584.2,917.5 590.9,918.1 C597.6,918.7 602.7,919.3 610.9,919.9 C619.1,920.5 629.1,921.2 640.0,921.7 C650.9,922.2 670.2,922.9 676.2,923.1" fill="none" stroke="#0000ff" stroke-width="1.6" stroke-linejoin="round" />
<text x="304.7" y="765.7" font-size="16.8" font-weight="bold" fill="#000" textLength="19.5" lengthAdjust="spacingAndGlyphs">20</text>
<text x="304.7" y="851.0" font-size="16.8" font-weight="bold" fill="#000" textLength="19.5" lengthAdjust="spacingAndGlyphs">10</text>
<text x="474.0" y="950.6" font-size="16.8" font-weight="bold" fill="#000" textLength="29" lengthAdjust="spacingAndGlyphs">400</text>
<text x="638.6" y="950.6" font-size="16.8" font-weight="bold" fill="#000" textLength="29" lengthAdjust="spacingAndGlyphs">600</text>
<text x="572.4" y="799.5" font-size="45" font-weight="bold" fill="#000" textLength="43.5" lengthAdjust="spacingAndGlyphs">(f)</text>
<g clip-path="url(#ck)">
<polyline points="70.8,1136.2 78.2,1141.2 84.3,1139.2 90.3,1133.2 96.3,1127.5 102.3,1125.5 108.3,1126.5 114.3,1128.5 120.4,1129.8 125.4,1128.7 131.4,1125.7 137.4,1122.5 142.8,1122.7 148.4,1128.5 154.5,1137.2 160.5,1147.2 167.5,1151.8 172.9,1150.6 180.5,1145.2 188.6,1139.6 196.2,1135.8 202.6,1139.2 208.6,1143.8 214.7,1150.6 221.3,1157.6 226.3,1157.6 232.7,1150.2 238.7,1141.2 244.1,1134.6 249.8,1136.2 255.8,1140.2 261.8,1141.8 267.8,1137.8 274.8,1132.2 280.9,1129.1 286.9,1126.7 292.9,1122.1 298.5,1117.1 303.9,1116.5 309.9,1124.5 316.0,1138.2 322.0,1150.2 328.0,1153.8 334.1,1152.2 340.1,1150.8 345.7,1149.8 351.7,1144.2 357.7,1133.2 363.2,1121.1 369.2,1112.1 374.6,1113.1 380.6,1117.7 387.2,1121.7 392.9,1128.1 398.9,1142.2 404.7,1155.8 410.9,1164.3 416.7,1161.8 422.7,1158.2 428.8,1162.2 434.4,1166.3 440.4,1165.3 446.4,1161.2 452.4,1155.2 458.0,1151.2 463.9,1155.8 469.9,1167.3 476.1,1177.9 481.9,1169.3 487.9,1156.6 493.6,1160.6 499.6,1179.3 505.6,1194.9 511.4,1192.9 517.6,1181.3 523.6,1171.9 529.7,1171.7 535.7,1180.3 541.7,1188.3 547.7,1196.4 553.3,1205.4 559.2,1212.4 564.8,1211.4 570.8,1200.4 576.8,1193.3 582.8,1196.8 588.8,1200.4 594.9,1199.8 600.9,1201.4 606.9,1204.0 612.9,1200.8 618.9,1190.3 624.4,1184.3 630.4,1190.7 636.0,1206.8 642.1,1220.4 648.1,1220.4 654.1,1202.4 660.2,1184.3 666.2,1175.9 672.2,1178.3 678.2,1175.9 684.2,1171.9 690.2,1172.7 695.9,1171.9 701.9,1173.3 707.9,1190.3 712.3,1208.4 718.3,1232.5 727.4,1260.5 738.4,1228.4 743.4,1207.4 749.4,1187.7 754.8,1186.3 760.9,1190.7 766.5,1207.4 772.9,1229.5 779.1,1232.5 784.5,1212.4 790.5,1187.3 797.0,1179.7 803.0,1189.3 809.0,1202.4 814.2,1207.0 819.6,1202.4 826.3,1191.3 832.3,1188.9 838.7,1193.3 844.7,1200.0 850.7,1209.4 856.3,1219.4 862.2,1223.4 868.2,1218.4 873.8,1216.4 879.8,1221.0 885.8,1222.8 891.9,1217.4 897.9,1208.4 903.9,1194.3 909.9,1180.3 915.9,1173.3 921.9,1170.3 928.0,1164.7" fill="none" stroke="#1010f5" stroke-width="2.6" stroke-linejoin="round" stroke-linecap="butt" />
<path d="M70.8,1133.2 C72.4,1133.0 77.3,1132.6 80.2,1132.2 C83.1,1131.8 86.0,1130.8 88.3,1130.6 C90.6,1130.4 92.0,1130.7 94.3,1131.2 C96.6,1131.7 99.3,1133.0 102.3,1133.6 C105.3,1134.2 108.9,1134.5 112.3,1134.8 C115.7,1135.1 119.2,1135.0 122.4,1135.4 C125.6,1135.8 127.7,1136.9 131.4,1137.2 C135.1,1137.5 140.2,1137.3 144.4,1137.4 C148.6,1137.5 152.2,1137.6 156.5,1137.8 C160.8,1138.0 165.8,1138.5 170.5,1138.6 C175.2,1138.7 179.9,1138.4 184.6,1138.2 C189.3,1138.0 193.9,1137.6 198.6,1137.4 C203.3,1137.2 208.6,1136.8 212.6,1136.8 C216.6,1136.8 218.7,1136.8 222.7,1137.2 C226.7,1137.6 232.0,1138.6 236.7,1139.2 C241.4,1139.8 246.8,1140.4 250.8,1140.6 C254.8,1140.8 257.5,1140.8 260.8,1140.6 C264.1,1140.4 266.8,1139.8 270.8,1139.2 C274.8,1138.6 280.2,1137.7 284.9,1137.2 C289.6,1136.7 294.2,1136.3 298.9,1136.2 C303.6,1136.1 307.7,1136.6 312.9,1136.8 C318.1,1137.0 323.9,1136.9 330.1,1137.4 C336.3,1137.9 343.4,1139.2 350.1,1139.8 C356.8,1140.4 364.2,1140.5 370.2,1141.2 C376.2,1141.9 381.5,1143.3 386.2,1144.2 C390.9,1145.1 394.3,1145.7 398.3,1146.8 C402.3,1147.9 406.3,1149.5 410.3,1150.6 C414.3,1151.7 417.6,1152.8 422.3,1153.6 C427.0,1154.4 433.7,1154.5 438.4,1155.2 C443.1,1155.9 446.4,1156.5 450.4,1157.8 C454.4,1159.0 458.5,1160.8 462.5,1162.7 C466.5,1164.6 470.5,1167.4 474.5,1169.3 C478.5,1171.2 482.5,1172.5 486.5,1173.9 C490.5,1175.3 494.6,1176.6 498.6,1177.7 C502.6,1178.8 506.6,1179.5 510.6,1180.3 C514.6,1181.1 518.6,1181.7 522.6,1182.3 C526.6,1182.9 530.7,1183.1 534.7,1183.9 C538.7,1184.7 542.7,1186.2 546.7,1187.3 C550.7,1188.4 554.8,1189.6 558.8,1190.3 C562.8,1191.0 566.8,1191.1 570.8,1191.3 C574.8,1191.5 578.8,1191.5 582.8,1191.7 C586.8,1191.9 590.9,1192.4 594.9,1192.3 C598.9,1192.2 603.6,1191.4 606.9,1191.3 C610.2,1191.2 611.5,1191.0 614.9,1191.7 C618.2,1192.4 623.8,1194.2 627.0,1195.3 C630.2,1196.4 630.9,1197.7 634.1,1198.4 C637.3,1199.2 640.8,1200.0 646.1,1199.8 C651.5,1199.6 659.2,1197.3 666.2,1197.4 C673.2,1197.5 681.2,1200.1 688.2,1200.4 C695.2,1200.7 701.3,1199.0 708.3,1199.0 C715.3,1199.0 723.4,1200.5 730.4,1200.4 C737.4,1200.3 743.7,1198.2 750.4,1198.4 C757.1,1198.6 763.8,1200.4 770.5,1201.8 C777.2,1203.2 784.5,1205.6 790.5,1206.8 C796.5,1208.0 801.6,1209.1 806.6,1209.0 C811.6,1208.9 815.6,1207.8 820.6,1206.4 C825.6,1205.0 830.7,1202.1 836.7,1200.4 C842.7,1198.7 850.0,1197.2 856.7,1196.0 C863.4,1194.8 869.8,1192.8 876.8,1192.9 C883.8,1193.0 892.5,1196.8 898.9,1196.8 C905.2,1196.8 910.0,1193.8 914.9,1192.7 C919.8,1191.6 925.8,1190.7 928.0,1190.3" fill="none" stroke="#ff0000" stroke-width="2.8" stroke-linejoin="round" />
</g>
<rect x="72.2" y="1092.4" width="855.8" height="501.4" fill="none" stroke="#969696" stroke-width="1.7"/>
<path d="M135.6,1593.8v-8M135.6,1092.4v8M214.8,1593.8v-8M214.8,1092.4v8M294.0,1593.8v-8M294.0,1092.4v8M373.2,1593.8v-8M373.2,1092.4v8M452.4,1593.8v-8M452.4,1092.4v8M531.6,1593.8v-8M531.6,1092.4v8M610.8,1593.8v-8M610.8,1092.4v8M690.0,1593.8v-8M690.0,1092.4v8M769.2,1593.8v-8M769.2,1092.4v8M848.4,1593.8v-8M848.4,1092.4v8M72.2,1138.0h8M928.0,1138.0h-8M72.2,1252.0h8M928.0,1252.0h-8M72.2,1365.1h8M928.0,1365.1h-8M72.2,1479.1h8M928.0,1479.1h-8" stroke="#969696" stroke-width="1.7" fill="none"/>
<text transform="translate(135.6,1618.0) scale(0.89,1)" font-size="16.8" font-weight="bold" text-anchor="middle" fill="#262626">100</text>
<text transform="translate(214.8,1618.0) scale(0.89,1)" font-size="16.8" font-weight="bold" text-anchor="middle" fill="#262626">150</text>
<text transform="translate(294.0,1618.0) scale(0.89,1)" font-size="16.8" font-weight="bold" text-anchor="middle" fill="#262626">200</text>
<text transform="translate(373.2,1618.0) scale(0.89,1)" font-size="16.8" font-weight="bold" text-anchor="middle" fill="#262626">250</text>
<text transform="translate(452.4,1618.0) scale(0.89,1)" font-size="16.8" font-weight="bold" text-anchor="middle" fill="#262626">300</text>
<text transform="translate(531.6,1618.0) scale(0.89,1)" font-size="16.8" font-weight="bold" text-anchor="middle" fill="#262626">350</text>
<text transform="translate(610.8,1618.0) scale(0.89,1)" font-size="16.8" font-weight="bold" text-anchor="middle" fill="#262626">400</text>
<text transform="translate(690.0,1618.0) scale(0.89,1)" font-size="16.8" font-weight="bold" text-anchor="middle" fill="#262626">450</text>
<text transform="translate(769.2,1618.0) scale(0.89,1)" font-size="16.8" font-weight="bold" text-anchor="middle" fill="#262626">500</text>
<text transform="translate(848.4,1618.0) scale(0.89,1)" font-size="16.8" font-weight="bold" text-anchor="middle" fill="#262626">550</text>
<text transform="translate(922.6,1618.0) scale(0.89,1)" font-size="16.8" font-weight="bold" text-anchor="middle" fill="#262626">60</text>
<text x="55.099999999999994" y="1145.5" font-size="17.6" font-weight="bold" fill="#000" textLength="9.5" lengthAdjust="spacingAndGlyphs">1</text>
<text x="26.699999999999996" y="1259.8" font-size="17.6" font-weight="bold" fill="#000" textLength="37.9" lengthAdjust="spacingAndGlyphs">0.95</text>
<text x="38.099999999999994" y="1373.5" font-size="17.6" font-weight="bold" fill="#000" textLength="26.5" lengthAdjust="spacingAndGlyphs">0.9</text>
<text x="26.699999999999996" y="1488.8" font-size="17.6" font-weight="bold" fill="#000" textLength="37.9" lengthAdjust="spacingAndGlyphs">0.85</text>
<text x="38.099999999999994" y="1603.1" font-size="17.6" font-weight="bold" fill="#000" textLength="26.5" lengthAdjust="spacingAndGlyphs">0.8</text>
<text transform="translate(20.6,1357.0) rotate(-90)" font-size="26" font-weight="bold" text-anchor="middle" fill="#000000" textLength="122" lengthAdjust="spacingAndGlyphs">Ratio (a.u.)</text>
<text x="812.6" y="1141.0" font-size="45" font-weight="bold" fill="#000" textLength="50.6" lengthAdjust="spacingAndGlyphs">(k)</text>
<text x="441.4" y="1646.6" font-size="18" font-weight="bold" fill="#262626" textLength="109.3" lengthAdjust="spacingAndGlyphs">Distance (m)</text>
<rect x="75" y="1219.8" width="662.4" height="364" fill="#fff"/>
<rect x="126.8" y="1224.0" width="608.0" height="328.3" fill="none" stroke="#969696" stroke-width="1.7"/>
<path d="M224.8,1552.3v-5.4M224.8,1224.0v5.4M322.8,1552.3v-5.4M322.8,1224.0v5.4M420.7,1552.3v-5.4M420.7,1224.0v5.4M518.7,1552.3v-5.4M518.7,1224.0v5.4M616.6,1552.3v-5.4M616.6,1224.0v5.4M714.5,1552.3v-5.4M714.5,1224.0v5.4M126.8,1267.0h5.4M734.8,1267.0h-5.4M126.8,1337.6h5.4M734.8,1337.6h-5.4M126.8,1409.5h5.4M734.8,1409.5h-5.4M126.8,1480.7h5.4M734.8,1480.7h-5.4" stroke="#969696" stroke-width="1.7" fill="none"/>
<g clip-path="url(#ci)">
<polyline points="130.0,1553.3 132.0,1484.5 134.4,1404.2 137.6,1321.7 140.6,1272.6 144.4,1276.6 148.0,1298.7 152.1,1307.7 157.1,1317.7 163.1,1334.0 170.1,1352.1 177.1,1368.1 184.2,1383.2 192.2,1396.2 202.2,1412.3 214.3,1430.3 230.3,1449.4 246.3,1464.4 264.4,1479.5 280.5,1489.5 292.5,1496.5 304.5,1505.6 312.5,1509.0 320.6,1510.6 328.6,1514.2 331.7,1515.6 345.7,1520.0 355.7,1521.2 369.8,1524.6 385.8,1528.2 401.9,1530.6 417.9,1533.6 430.0,1534.2 446.0,1536.6 462.1,1539.1 480.1,1540.3 500.2,1541.3 530.3,1543.1 560.4,1545.3 590.5,1546.3 614.5,1547.1 639.6,1548.1 689.6,1549.2 734.4,1550.3" fill="none" stroke="#ff0000" stroke-width="2.0" stroke-linejoin="round" stroke-linecap="butt" />
<polyline points="130.4,1552.3 132.4,1483.5 134.8,1403.2 138.0,1320.7 141.0,1271.6 144.8,1275.6 148.4,1297.7 152.5,1306.7 157.5,1316.7 163.5,1333.0 170.5,1351.1 177.5,1367.1 184.6,1382.2 192.6,1395.2 202.6,1411.3 214.7,1429.3 230.7,1448.4 246.7,1463.4 264.8,1478.5 280.9,1488.5 292.9,1495.5 304.9,1504.6 312.9,1508.0 321.0,1509.6 329.0,1513.2 332.1,1514.6 346.1,1519.0 356.1,1520.2 370.2,1523.6 386.2,1527.2 402.3,1529.6 418.3,1532.6 430.4,1533.2 446.4,1535.6 462.5,1538.1 480.5,1539.3 500.6,1540.3 530.7,1542.1 560.8,1544.3 590.9,1545.3 614.9,1546.1 640.0,1547.1 690.0,1548.2 734.8,1549.3" fill="none" stroke="#0000ff" stroke-width="2.0" stroke-linejoin="round" stroke-linecap="butt" />
</g>
<text transform="translate(126.8,1577.1) scale(0.9,1)" font-size="16.5" font-weight="bold" text-anchor="middle" fill="#262626">0</text>
<text transform="translate(224.8,1577.1) scale(0.9,1)" font-size="16.5" font-weight="bold" text-anchor="middle" fill="#262626">100</text>
<text transform="translate(322.8,1577.1) scale(0.9,1)" font-size="16.5" font-weight="bold" text-anchor="middle" fill="#262626">200</text>
<text transform="translate(420.7,1577.1) scale(0.9,1)" font-size="16.5" font-weight="bold" text-anchor="middle" fill="#262626">300</text>
<text transform="translate(518.7,1577.1) scale(0.9,1)" font-size="16.5" font-weight="bold" text-anchor="middle" fill="#262626">400</text>
<text transform="translate(616.6,1577.1) scale(0.9,1)" font-size="16.5" font-weight="bold" text-anchor="middle" fill="#262626">500</text>
<text transform="translate(714.5,1577.1) scale(0.9,1)" font-size="16.5" font-weight="bold" text-anchor="middle" fill="#262626">600</text>
<text transform="translate(121.4,1274.5) scale(0.9,1)" font-size="16.5" font-weight="bold" text-anchor="end" fill="#262626">200</text>
<text transform="translate(121.4,1345.3) scale(0.9,1)" font-size="16.5" font-weight="bold" text-anchor="end" fill="#262626">150</text>
<text transform="translate(121.4,1417.2) scale(0.9,1)" font-size="16.5" font-weight="bold" text-anchor="end" fill="#262626">100</text>
<text transform="translate(121.4,1488.8) scale(0.9,1)" font-size="16.5" font-weight="bold" text-anchor="end" fill="#262626">50</text>
<text transform="translate(121.4,1559.6) scale(0.9,1)" font-size="16.5" font-weight="bold" text-anchor="end" fill="#262626">0</text>
<text transform="translate(89.4,1388.5) rotate(-90)" font-size="19" font-weight="normal" text-anchor="middle" fill="#1a1a1a" stroke="#1a1a1a" stroke-width="0.45" textLength="139.7" lengthAdjust="spacingAndGlyphs">Intensity (a.u.)</text>
<text x="176.1" y="1288.0" font-size="45" font-weight="bold" fill="#000" textLength="38.5" lengthAdjust="spacingAndGlyphs">(i)</text>
<rect x="639.7" y="1229.8" width="89.7" height="46.4" fill="#fff" stroke="#8a8a8a" stroke-width="1.2"/>
<path d="M643.1,1242.1H660.2" stroke="#ff0000" stroke-width="1.5"/>
<path d="M643.1,1264.0H660.2" stroke="#0000ff" stroke-width="1.5"/>
<text x="662.2" y="1247.8" font-size="16" font-weight="bold" fill="#111" textLength="63.8" lengthAdjust="spacingAndGlyphs">On-curve</text>
<text x="662.2" y="1269.7" font-size="16" font-weight="bold" fill="#111" textLength="64.2" lengthAdjust="spacingAndGlyphs">Off-curve</text>
<rect x="256.4" y="1241.5" width="373.2" height="191.4" fill="none" stroke="#c0c0c0" stroke-width="1.5"/>
<path d="M309.8,1432.9v-3.5M309.8,1241.5v3.5M363.1,1432.9v-3.5M363.1,1241.5v3.5M416.4,1432.9v-3.5M416.4,1241.5v3.5M469.8,1432.9v-3.5M469.8,1241.5v3.5M523.1,1432.9v-3.5M523.1,1241.5v3.5M576.5,1432.9v-3.5M576.5,1241.5v3.5M256.4,1289.5h3.5M629.6,1289.5h-3.5M256.4,1337.5h3.5M629.6,1337.5h-3.5M256.4,1385.3h3.5M629.6,1385.3h-3.5" stroke="#c0c0c0" stroke-width="1.5" fill="none"/>
<polyline points="256.4,1246.5 262.8,1254.5 270.8,1266.6 279.8,1277.6 288.9,1284.6 298.9,1295.7 308.9,1305.7 318.0,1308.7 325.0,1316.7 334.1,1322.7 345.1,1335.8 354.1,1341.4 368.2,1350.4 376.2,1351.8 386.2,1355.2 400.3,1360.9 414.3,1367.3 426.4,1370.5 440.4,1376.5 450.4,1378.9 464.5,1385.3 476.5,1388.3 488.5,1393.3 500.6,1397.4 510.6,1398.0 528.7,1403.4 540.7,1403.0 554.7,1406.0 568.8,1407.4 580.8,1409.4 590.9,1411.4 610.9,1412.8 622.9,1414.4 629.6,1413.8" fill="none" stroke="#ff2020" stroke-width="1.2" stroke-linejoin="round" stroke-linecap="butt" />
<polyline points="256.4,1244.9 262.8,1252.1 270.8,1263.0 279.8,1269.6 288.9,1279.6 298.9,1289.6 308.9,1300.7 321.0,1305.7 328.1,1312.7 336.1,1322.7 345.1,1328.8 354.1,1336.8 362.2,1341.2 372.2,1344.8 380.2,1345.2 390.2,1350.4 400.3,1354.4 414.3,1360.4 426.4,1366.5 436.4,1367.9 448.4,1374.5 460.5,1379.3 468.5,1382.9 484.5,1385.3 496.6,1389.3 508.6,1394.0 518.6,1396.6 527.7,1396.0 536.7,1400.0 548.7,1400.4 562.8,1403.4 578.8,1404.0 590.9,1407.0 600.9,1406.0 612.9,1408.4 622.9,1411.0 629.6,1411.2" fill="none" stroke="#2020ff" stroke-width="1.2" stroke-linejoin="round" stroke-linecap="butt" />
<text x="231.6" y="1250.9" font-size="16.8" font-weight="bold" fill="#000" textLength="19.0" lengthAdjust="spacingAndGlyphs">20</text>
<text x="231.6" y="1343.2" font-size="16.8" font-weight="bold" fill="#000" textLength="19.0" lengthAdjust="spacingAndGlyphs">10</text>
<text x="406.8" y="1451.4" font-size="16.8" font-weight="bold" fill="#000" textLength="29" lengthAdjust="spacingAndGlyphs">400</text>
<text x="612.8" y="1449.6" font-size="16.8" font-weight="bold" fill="#000" textLength="29" lengthAdjust="spacingAndGlyphs">600</text>
<text x="572.8" y="1288.0" font-size="45" font-weight="bold" fill="#000" textLength="40.1" lengthAdjust="spacingAndGlyphs">(j)</text>
<g clip-path="url(#scd)"><path d="M1073.0,204.1 L1471.6,121.2 A478.3,478.3 0 0 1 1471.3,317.2 L1073.0,233.3 A71.2,71.2 0 0 0 1073.0,204.1 Z" fill="#036be1"/><g filter="url(#bld)">
<path d="M1073.0,204.1 L1471.6,121.2 A478.3,478.3 0 0 1 1471.3,317.2 L1073.0,233.3 A71.2,71.2 0 0 0 1073.0,204.1 Z" fill="#036be1" opacity="0"/>
<ellipse cx="1378.7" cy="226.5" rx="54.9" ry="3.6" transform="rotate(-1.3 1378.7 226.5)" fill="#1079da" opacity="0.53"/>
<ellipse cx="1436.2" cy="196.6" rx="38.5" ry="4.5" transform="rotate(-1.4 1436.2 196.6)" fill="#1b55d6" opacity="0.36"/>
<ellipse cx="1465.3" cy="128.1" rx="44.1" ry="2.4" transform="rotate(-10.9 1465.3 128.1)" fill="#127cd8" opacity="0.37"/>
<ellipse cx="1272.3" cy="253.0" rx="43.6" ry="3.5" transform="rotate(7.4 1272.3 253.0)" fill="#1459db" opacity="0.57"/>
<ellipse cx="1405.6" cy="219.3" rx="81.0" ry="4.8" transform="rotate(2.8 1405.6 219.3)" fill="#1d54d6" opacity="0.60"/>
<ellipse cx="1268.6" cy="238.9" rx="55.9" ry="2.5" transform="rotate(7.2 1268.6 238.9)" fill="#254fcf" opacity="0.49"/>
<ellipse cx="1441.4" cy="137.2" rx="81.6" ry="3.6" transform="rotate(-6.7 1441.4 137.2)" fill="#2053d4" opacity="0.49"/>
<ellipse cx="1391.2" cy="287.0" rx="36.2" ry="3.0" transform="rotate(13.7 1391.2 287.0)" fill="#0e77db" opacity="0.62"/>
<ellipse cx="1273.0" cy="261.1" rx="57.9" ry="2.1" transform="rotate(9.4 1273.0 261.1)" fill="#254fce" opacity="0.51"/>
<ellipse cx="1419.1" cy="271.7" rx="39.0" ry="3.4" transform="rotate(5.0 1419.1 271.7)" fill="#0c5ede" opacity="0.44"/>
<ellipse cx="1431.4" cy="136.7" rx="44.8" ry="3.4" transform="rotate(-8.0 1431.4 136.7)" fill="#0462e1" opacity="0.57"/>
<ellipse cx="1472.8" cy="296.1" rx="77.5" ry="3.4" transform="rotate(7.7 1472.8 296.1)" fill="#1e54d5" opacity="0.38"/>
<ellipse cx="1379.6" cy="282.3" rx="49.0" ry="3.3" transform="rotate(13.3 1379.6 282.3)" fill="#0d5dde" opacity="0.52"/>
<ellipse cx="1453.0" cy="205.8" rx="81.9" ry="4.7" transform="rotate(-3.6 1453.0 205.8)" fill="#2251d2" opacity="0.42"/>
<ellipse cx="1466.9" cy="174.3" rx="82.3" ry="4.1" transform="rotate(-6.1 1466.9 174.3)" fill="#0364e1" opacity="0.39"/>
<ellipse cx="1465.3" cy="306.7" rx="49.4" ry="4.8" transform="rotate(11.6 1465.3 306.7)" fill="#0a5fdf" opacity="0.45"/>
<ellipse cx="1416.0" cy="273.9" rx="60.9" ry="4.5" transform="rotate(8.5 1416.0 273.9)" fill="#1f53d4" opacity="0.45"/>
<ellipse cx="1254.6" cy="176.2" rx="42.5" ry="1.8" transform="rotate(-12.2 1254.6 176.2)" fill="#1d54d5" opacity="0.48"/>
<ellipse cx="1221.9" cy="212.6" rx="58.8" ry="2.8" transform="rotate(-0.0 1221.9 212.6)" fill="#0363e1" opacity="0.55"/>
<ellipse cx="1148.9" cy="240.2" rx="41.9" ry="2.8" transform="rotate(4.6 1148.9 240.2)" fill="#0363e1" opacity="0.57"/>
<ellipse cx="1422.1" cy="222.3" rx="37.0" ry="3.7" transform="rotate(2.4 1422.1 222.3)" fill="#0364e1" opacity="0.67"/>
<ellipse cx="1413.9" cy="179.8" rx="50.3" ry="4.0" transform="rotate(-2.2 1413.9 179.8)" fill="#1480d6" opacity="0.65"/>
<ellipse cx="1435.9" cy="233.9" rx="65.6" ry="3.3" transform="rotate(2.7 1435.9 233.9)" fill="#117bd9" opacity="0.56"/>
<ellipse cx="1393.9" cy="286.3" rx="67.3" ry="3.2" transform="rotate(11.7 1393.9 286.3)" fill="#1480d6" opacity="0.55"/>
<ellipse cx="1446.8" cy="230.1" rx="35.9" ry="4.0" transform="rotate(1.3 1446.8 230.1)" fill="#0860df" opacity="0.43"/>
<ellipse cx="1360.2" cy="190.5" rx="42.0" ry="2.0" transform="rotate(-6.1 1360.2 190.5)" fill="#1480d6" opacity="0.59"/>
<ellipse cx="1240.1" cy="247.7" rx="41.1" ry="3.4" transform="rotate(5.6 1240.1 247.7)" fill="#127cd8" opacity="0.58"/>
<ellipse cx="1338.9" cy="260.4" rx="68.3" ry="2.9" transform="rotate(7.8 1338.9 260.4)" fill="#1480d6" opacity="0.46"/>
<ellipse cx="1357.1" cy="271.7" rx="62.7" ry="4.4" transform="rotate(6.8 1357.1 271.7)" fill="#137fd6" opacity="0.41"/>
<ellipse cx="1287.7" cy="224.8" rx="52.1" ry="2.8" transform="rotate(-0.2 1287.7 224.8)" fill="#1658d9" opacity="0.64"/>
<ellipse cx="1341.6" cy="152.3" rx="68.7" ry="2.1" transform="rotate(-9.4 1341.6 152.3)" fill="#264ecd" opacity="0.55"/>
<ellipse cx="1435.0" cy="252.8" rx="57.0" ry="2.3" transform="rotate(7.2 1435.0 252.8)" fill="#2251d1" opacity="0.43"/>
<ellipse cx="1160.8" cy="241.9" rx="40.8" ry="2.4" transform="rotate(10.9 1160.8 241.9)" fill="#1079da" opacity="0.69"/>
<ellipse cx="1255.3" cy="200.2" rx="25.8" ry="2.6" transform="rotate(-2.5 1255.3 200.2)" fill="#2152d3" opacity="0.41"/>
<ellipse cx="1312.2" cy="247.7" rx="54.0" ry="3.6" transform="rotate(4.5 1312.2 247.7)" fill="#117ad9" opacity="0.63"/>
<ellipse cx="1192.0" cy="187.6" rx="26.9" ry="2.3" transform="rotate(-8.3 1192.0 187.6)" fill="#137dd7" opacity="0.67"/>
<ellipse cx="1380.8" cy="238.1" rx="75.6" ry="3.3" transform="rotate(4.2 1380.8 238.1)" fill="#137fd7" opacity="0.42"/>
<ellipse cx="1440.8" cy="179.9" rx="45.1" ry="4.8" transform="rotate(-1.2 1440.8 179.9)" fill="#137dd8" opacity="0.69"/>
<ellipse cx="1436.2" cy="212.9" rx="77.4" ry="3.2" transform="rotate(-4.1 1436.2 212.9)" fill="#0363e1" opacity="0.50"/>
<ellipse cx="1431.0" cy="210.6" rx="74.5" ry="2.4" transform="rotate(1.3 1431.0 210.6)" fill="#264ecd" opacity="0.41"/>
<ellipse cx="1434.6" cy="248.2" rx="60.1" ry="4.3" transform="rotate(6.6 1434.6 248.2)" fill="#2251d1" opacity="0.59"/>
<ellipse cx="1354.3" cy="155.2" rx="40.3" ry="3.3" transform="rotate(-11.9 1354.3 155.2)" fill="#0b74dd" opacity="0.61"/>
<ellipse cx="1368.0" cy="198.7" rx="45.0" ry="3.0" transform="rotate(-0.4 1368.0 198.7)" fill="#117bd9" opacity="0.67"/>
<ellipse cx="1446.5" cy="272.0" rx="64.2" ry="2.9" transform="rotate(7.2 1446.5 272.0)" fill="#117ad9" opacity="0.53"/>
<ellipse cx="1215.0" cy="231.5" rx="130.0" ry="5.0" transform="rotate(1.0 1215.0 231.5)" fill="#274ecc" opacity="0.75"/>
<ellipse cx="1300.0" cy="236.0" rx="60.0" ry="4.0" transform="rotate(2.0 1300.0 236.0)" fill="#2f47c0" opacity="0.70"/>
<ellipse cx="1250.0" cy="253.0" rx="50.0" ry="4.0" transform="rotate(9.0 1250.0 253.0)" fill="#274ecc" opacity="0.60"/>
<ellipse cx="1418.0" cy="144.0" rx="45.0" ry="4.0" transform="rotate(-9.0 1418.0 144.0)" fill="#108ed2" opacity="0.75"/>
<ellipse cx="1398.0" cy="160.0" rx="34.0" ry="3.5" transform="rotate(-7.0 1398.0 160.0)" fill="#138ad3" opacity="0.70"/>
<ellipse cx="1310.0" cy="171.0" rx="30.0" ry="4.0" transform="rotate(-7.0 1310.0 171.0)" fill="#1485d4" opacity="0.60"/>
<ellipse cx="1410.0" cy="195.0" rx="38.0" ry="3.5" transform="rotate(-3.0 1410.0 195.0)" fill="#138ad3" opacity="0.70"/>
<ellipse cx="1440.0" cy="131.0" rx="30.0" ry="2.5" transform="rotate(-11.0 1440.0 131.0)" fill="#0997d1" opacity="0.70"/>
<ellipse cx="1392.0" cy="268.0" rx="42.0" ry="9.0" transform="rotate(6.0 1392.0 268.0)" fill="#079bd0" opacity="0.80"/>
<ellipse cx="1440.0" cy="290.0" rx="25.0" ry="5.0" transform="rotate(10.0 1440.0 290.0)" fill="#108ed2" opacity="0.60"/>
<ellipse cx="1455.5" cy="178.4" rx="25.0" ry="8.0" transform="rotate(-5.0 1455.5 178.4)" fill="#2ab6a6" opacity="0.95"/>
<ellipse cx="1456.5" cy="178.2" rx="14.0" ry="5.0" transform="rotate(-5.0 1456.5 178.2)" fill="#9fbe6d" opacity="0.95"/>
</g></g>
<path d="M1073.0,204.1 L1471.6,121.2 A478.3,478.3 0 0 1 1471.3,317.2 L1073.0,233.3 A71.2,71.2 0 0 0 1073.0,204.1 Z" fill="none" stroke="#036be1" stroke-width="0.6" opacity="0.6"/>
<g clip-path="url(#bxd)" fill="none" stroke="#5c5c5c" stroke-width="1.15" stroke-dasharray="4.8 2.8 1.4 2.8" style="mix-blend-mode:multiply">
<ellipse cx="1003.3" cy="218.6" rx="71.5" ry="71.1"/>
<ellipse cx="1003.3" cy="218.6" rx="142.9" ry="142.4"/>
<ellipse cx="1003.3" cy="218.6" rx="214.4" ry="213.4"/>
<ellipse cx="1003.3" cy="218.6" rx="285.8" ry="284.5"/>
<ellipse cx="1003.3" cy="218.6" rx="357.2" ry="358.4"/>
<ellipse cx="1003.3" cy="218.6" rx="428.7" ry="438.8"/>
<ellipse cx="1003.3" cy="218.6" rx="500.2" ry="526.2"/>
</g>
<path d="M970.2,218.6H1581.4" stroke="#2b2b2b" stroke-width="1.25" stroke-dasharray="2.5 1.9 0.9 2.2" fill="none" style="mix-blend-mode:multiply"/>
<path d="M1579.9,216.0L1584.0,218.6L1579.9,221.2Z" fill="#222"/>
<path d="M1003.3,218.6L1544.2,170.7" stroke="#cdc834" stroke-width="2.2" stroke-linecap="round" stroke-dasharray="14.2 8.1 0.3 8.0" fill="none"/>
<path d="M1334.9,88.8 L1574.5,88.8" fill="none" stroke="#ff0000" stroke-width="3.0" stroke-dasharray="10.7 8.5"/><path d="M1336.4,88.8 L1336.4,347.0 L1574.5,347.0" fill="none" stroke="#ff0000" stroke-width="3.0" stroke-dasharray="10.7 8.5"/><path d="M1452.9,192.1 L1502.1,192.1 L1502.1,240.8 L1452.9,240.8Z" fill="none" stroke="#ff0000" stroke-width="2.9" stroke-dasharray="8 4.6"/>
<rect x="1003.2" y="5.2" width="572.2" height="497.9" fill="none" stroke="#4d72a8" stroke-width="1.6"/>
<path d="M1074.8,503.1v-5M1146.2,503.1v-5M1217.7,503.1v-5M1289.1,503.1v-5M1360.5,503.1v-5M1432.0,503.1v-5M1503.5,503.1v-5M1003.2,5.3h5M1003.2,76.4h5M1003.2,147.5h5M1003.2,289.7h5M1003.2,360.8h5M1003.2,431.9h5" stroke="#666" stroke-width="1.1" fill="none"/>
<text x="1003.3" y="527.9" font-size="17.4" font-weight="bold" text-anchor="middle" fill="#262626" stroke="#262626" stroke-width="0.25">0</text>
<text x="1074.8" y="527.9" font-size="17.4" font-weight="bold" text-anchor="middle" fill="#262626" stroke="#262626" stroke-width="0.25">100</text>
<text x="1146.2" y="527.9" font-size="17.4" font-weight="bold" text-anchor="middle" fill="#262626" stroke="#262626" stroke-width="0.25">200</text>
<text x="1217.7" y="527.9" font-size="17.4" font-weight="bold" text-anchor="middle" fill="#262626" stroke="#262626" stroke-width="0.25">300</text>
<text x="1289.1" y="527.9" font-size="17.4" font-weight="bold" text-anchor="middle" fill="#262626" stroke="#262626" stroke-width="0.25">400</text>
<text x="1360.5" y="527.9" font-size="17.4" font-weight="bold" text-anchor="middle" fill="#262626" stroke="#262626" stroke-width="0.25">500</text>
<text x="1432.0" y="527.9" font-size="17.4" font-weight="bold" text-anchor="middle" fill="#262626" stroke="#262626" stroke-width="0.25">600</text>
<text x="1503.5" y="527.9" font-size="17.4" font-weight="bold" text-anchor="middle" fill="#262626" stroke="#262626" stroke-width="0.25">700</text>
<text x="1574.9" y="527.9" font-size="17.4" font-weight="bold" text-anchor="middle" fill="#262626" stroke="#262626" stroke-width="0.25">800</text>
<text x="996.9" y="13.3" font-size="17.4" font-weight="bold" text-anchor="end" fill="#262626" stroke="#262626" stroke-width="0.25">300</text>
<text x="996.9" y="84.4" font-size="17.4" font-weight="bold" text-anchor="end" fill="#262626" stroke="#262626" stroke-width="0.25">200</text>
<text x="996.9" y="155.5" font-size="17.4" font-weight="bold" text-anchor="end" fill="#262626" stroke="#262626" stroke-width="0.25">100</text>
<text x="996.9" y="226.6" font-size="17.4" font-weight="bold" text-anchor="end" fill="#262626" stroke="#262626" stroke-width="0.25">0</text>
<text x="996.9" y="297.7" font-size="17.4" font-weight="bold" text-anchor="end" fill="#262626" stroke="#262626" stroke-width="0.25">-100</text>
<text x="996.9" y="368.8" font-size="17.4" font-weight="bold" text-anchor="end" fill="#262626" stroke="#262626" stroke-width="0.25">-200</text>
<text x="996.9" y="439.9" font-size="17.4" font-weight="bold" text-anchor="end" fill="#262626" stroke="#262626" stroke-width="0.25">-300</text>
<text x="996.9" y="511.0" font-size="17.4" font-weight="bold" text-anchor="end" fill="#262626" stroke="#262626" stroke-width="0.25">-400</text>
<text transform="translate(954.2,254.6) rotate(-90)" font-size="18" font-weight="bold" text-anchor="middle" fill="#262626" textLength="108.5" lengthAdjust="spacingAndGlyphs">Distance (m)</text>
<text x="1509.7" y="25.2" font-size="22" fill="#111" stroke="#111" stroke-width="0.3" textLength="62" lengthAdjust="spacingAndGlyphs">ng/m<tspan font-size="13.5" dy="-9">3</tspan></text>
<text x="1009.8" y="479.5" font-size="45" font-weight="bold" fill="#000" textLength="53.0" lengthAdjust="spacingAndGlyphs">(d)</text>
<g transform="translate(1021.3,42.4) rotate(0.0)"><path d="M0,-11.3 L32.1,-11.3 L32.1,-22.5 L54.7,0 L32.1,22.5 L32.1,11.3 L0,11.3Z" fill="#fff" stroke="#000" stroke-width="2" stroke-linejoin="miter"/><text transform="translate(21.3,0.3) rotate(0)" y="6.4" font-size="18" text-anchor="middle" fill="#000">N</text></g>
<rect x="1599.4" y="6.7" width="18.0" height="495.8" fill="url(#cbd)"/>
<text x="1622.6" y="510.1" font-size="16.5" font-weight="bold" fill="#262626">0</text>
<text x="1622.6" y="439.3" font-size="16.5" font-weight="bold" fill="#262626">5</text>
<text x="1622.6" y="368.4" font-size="16.5" font-weight="bold" fill="#262626">10</text>
<text x="1622.6" y="297.6" font-size="16.5" font-weight="bold" fill="#262626">15</text>
<text x="1622.6" y="226.8" font-size="16.5" font-weight="bold" fill="#262626">20</text>
<text x="1622.6" y="156.0" font-size="16.5" font-weight="bold" fill="#262626">25</text>
<text x="1622.6" y="85.1" font-size="16.5" font-weight="bold" fill="#262626">30</text>
<text x="1622.6" y="14.3" font-size="16.5" font-weight="bold" fill="#262626">35</text>
<path d="M1617.4,431.7h-4M1617.4,360.8h-4M1617.4,290.0h-4M1617.4,219.2h-4M1617.4,148.4h-4M1617.4,77.5h-4" stroke="#555" stroke-width="1" fill="none"/>
<path d="M1487.7,317V246" stroke="#ff0000" stroke-width="1.2" fill="none"/><path d="M1485.6,249.5L1487.7,243.6L1489.8,249.5Z" fill="#ff0000"/><path d="M1413.3,400.4L1385.8,351" stroke="#ff0000" stroke-width="1.2" fill="none"/><path d="M1386.2,356.4L1385.6,350.2L1390.0,354.3Z" fill="#ff0000"/><text x="1369.3" y="331.8" font-size="18" font-weight="bold" fill="#000" textLength="201.3" lengthAdjust="spacingAndGlyphs">Platform of the mound</text><text x="1409" y="412.4" font-size="18" font-weight="bold" fill="#000" textLength="155.6" lengthAdjust="spacingAndGlyphs">Grave mound pile</text>
<g clip-path="url(#sch)"><path d="M1068.9,730.7 L1395.7,585.5 A429.4,429.4 0 0 1 1351.6,1011.0 L1061.5,801.8 A71.8,71.8 0 0 0 1068.9,730.7 Z" fill="#036ae1"/><g filter="url(#blh)">
<path d="M1068.9,730.7 L1395.7,585.5 A429.4,429.4 0 0 1 1351.6,1011.0 L1061.5,801.8 A71.8,71.8 0 0 0 1068.9,730.7 Z" fill="#036ae1" opacity="0"/>
<ellipse cx="1382.7" cy="751.5" rx="29.8" ry="11.6" transform="rotate(-14.4 1382.7 751.5)" fill="#108fd2" opacity="0.64"/>
<ellipse cx="1340.9" cy="635.9" rx="23.1" ry="6.5" transform="rotate(-18.9 1340.9 635.9)" fill="#1078da" opacity="0.68"/>
<ellipse cx="1199.1" cy="895.5" rx="23.7" ry="4.7" transform="rotate(43.0 1199.1 895.5)" fill="#2152d3" opacity="0.51"/>
<ellipse cx="1202.3" cy="756.6" rx="12.9" ry="4.6" transform="rotate(12.6 1202.3 756.6)" fill="#2350d0" opacity="0.80"/>
<ellipse cx="1403.7" cy="893.2" rx="19.1" ry="12.6" transform="rotate(23.8 1403.7 893.2)" fill="#2d49c4" opacity="0.84"/>
<ellipse cx="1258.5" cy="680.7" rx="13.7" ry="4.4" transform="rotate(-22.8 1258.5 680.7)" fill="#3639a6" opacity="0.69"/>
<ellipse cx="1302.0" cy="971.3" rx="30.9" ry="8.3" transform="rotate(30.1 1302.0 971.3)" fill="#353eae" opacity="0.64"/>
<ellipse cx="1159.7" cy="743.2" rx="19.6" ry="6.9" transform="rotate(-19.6 1159.7 743.2)" fill="#0e76dc" opacity="0.77"/>
<ellipse cx="1336.8" cy="842.3" rx="16.4" ry="11.1" transform="rotate(5.4 1336.8 842.3)" fill="#36369f" opacity="0.75"/>
<ellipse cx="1398.2" cy="621.1" rx="26.6" ry="11.3" transform="rotate(-30.3 1398.2 621.1)" fill="#343fb1" opacity="0.75"/>
<ellipse cx="1398.2" cy="679.2" rx="16.0" ry="7.7" transform="rotate(-8.4 1398.2 679.2)" fill="#1f53d4" opacity="0.82"/>
<ellipse cx="1403.5" cy="870.4" rx="21.6" ry="6.6" transform="rotate(3.6 1403.5 870.4)" fill="#353eae" opacity="0.51"/>
<ellipse cx="1430.0" cy="721.3" rx="38.0" ry="9.6" transform="rotate(-7.8 1430.0 721.3)" fill="#36369f" opacity="0.54"/>
<ellipse cx="1399.8" cy="763.0" rx="15.0" ry="11.9" transform="rotate(-12.6 1399.8 763.0)" fill="#3341b5" opacity="0.65"/>
<ellipse cx="1198.4" cy="711.3" rx="19.7" ry="7.5" transform="rotate(-25.0 1198.4 711.3)" fill="#108fd2" opacity="0.62"/>
<ellipse cx="1360.8" cy="939.5" rx="36.8" ry="11.5" transform="rotate(40.0 1360.8 939.5)" fill="#3342b7" opacity="0.63"/>
<ellipse cx="1377.6" cy="803.8" rx="22.3" ry="6.0" transform="rotate(3.3 1377.6 803.8)" fill="#353dad" opacity="0.85"/>
<ellipse cx="1334.1" cy="631.9" rx="14.7" ry="6.7" transform="rotate(-13.2 1334.1 631.9)" fill="#343eb0" opacity="0.80"/>
<ellipse cx="1380.0" cy="855.0" rx="28.5" ry="10.6" transform="rotate(10.4 1380.0 855.0)" fill="#1487d3" opacity="0.73"/>
<ellipse cx="1306.7" cy="863.9" rx="18.1" ry="10.6" transform="rotate(23.1 1306.7 863.9)" fill="#1487d3" opacity="0.68"/>
<ellipse cx="1279.2" cy="951.7" rx="22.1" ry="10.1" transform="rotate(38.9 1279.2 951.7)" fill="#2d49c4" opacity="0.77"/>
<ellipse cx="1349.6" cy="852.4" rx="20.5" ry="10.7" transform="rotate(25.3 1349.6 852.4)" fill="#128bd2" opacity="0.73"/>
<ellipse cx="1393.5" cy="601.4" rx="18.2" ry="11.8" transform="rotate(-9.8 1393.5 601.4)" fill="#3144bb" opacity="0.64"/>
<ellipse cx="1376.6" cy="725.2" rx="30.5" ry="9.1" transform="rotate(-0.7 1376.6 725.2)" fill="#117ada" opacity="0.62"/>
<ellipse cx="1389.4" cy="751.0" rx="14.1" ry="6.2" transform="rotate(-3.0 1389.4 751.0)" fill="#1388d3" opacity="0.71"/>
<ellipse cx="1342.8" cy="901.0" rx="23.4" ry="6.5" transform="rotate(10.1 1342.8 901.0)" fill="#0e77db" opacity="0.50"/>
<ellipse cx="1217.9" cy="824.5" rx="17.9" ry="5.7" transform="rotate(19.9 1217.9 824.5)" fill="#36369e" opacity="0.69"/>
<ellipse cx="1386.0" cy="910.3" rx="20.5" ry="8.4" transform="rotate(10.7 1386.0 910.3)" fill="#3340b4" opacity="0.78"/>
<ellipse cx="1139.3" cy="792.3" rx="15.9" ry="4.4" transform="rotate(15.7 1139.3 792.3)" fill="#0f78db" opacity="0.83"/>
<ellipse cx="1298.9" cy="692.7" rx="19.0" ry="5.2" transform="rotate(-10.1 1298.9 692.7)" fill="#1486d4" opacity="0.68"/>
<ellipse cx="1398.5" cy="608.3" rx="35.5" ry="5.4" transform="rotate(-32.0 1398.5 608.3)" fill="#137ed7" opacity="0.68"/>
<ellipse cx="1209.2" cy="756.9" rx="15.8" ry="5.7" transform="rotate(-8.5 1209.2 756.9)" fill="#118dd2" opacity="0.57"/>
<ellipse cx="1274.3" cy="651.0" rx="23.0" ry="5.8" transform="rotate(-8.4 1274.3 651.0)" fill="#118ed2" opacity="0.65"/>
<ellipse cx="1272.0" cy="812.0" rx="16.5" ry="6.9" transform="rotate(0.4 1272.0 812.0)" fill="#1482d5" opacity="0.70"/>
<ellipse cx="1265.1" cy="802.8" rx="11.2" ry="7.1" transform="rotate(3.0 1265.1 802.8)" fill="#128bd2" opacity="0.82"/>
<ellipse cx="1248.0" cy="713.9" rx="28.1" ry="5.5" transform="rotate(-7.6 1248.0 713.9)" fill="#3639a5" opacity="0.64"/>
<ellipse cx="1352.4" cy="744.3" rx="28.9" ry="6.8" transform="rotate(-1.6 1352.4 744.3)" fill="#1079da" opacity="0.58"/>
<ellipse cx="1318.9" cy="862.3" rx="27.7" ry="8.5" transform="rotate(5.0 1318.9 862.3)" fill="#343fb1" opacity="0.55"/>
<ellipse cx="1412.4" cy="821.8" rx="14.4" ry="11.2" transform="rotate(6.6 1412.4 821.8)" fill="#1483d5" opacity="0.68"/>
<ellipse cx="1357.0" cy="720.9" rx="21.1" ry="7.5" transform="rotate(3.6 1357.0 720.9)" fill="#2152d2" opacity="0.53"/>
<ellipse cx="1381.1" cy="882.6" rx="29.6" ry="8.3" transform="rotate(12.0 1381.1 882.6)" fill="#254fce" opacity="0.76"/>
<ellipse cx="1199.8" cy="695.1" rx="17.8" ry="5.2" transform="rotate(-27.9 1199.8 695.1)" fill="#3145bc" opacity="0.68"/>
<ellipse cx="1164.8" cy="724.3" rx="20.6" ry="6.2" transform="rotate(-25.7 1164.8 724.3)" fill="#264ecd" opacity="0.74"/>
<ellipse cx="1400.1" cy="597.5" rx="34.6" ry="7.1" transform="rotate(-18.2 1400.1 597.5)" fill="#0e77db" opacity="0.83"/>
<ellipse cx="1205.0" cy="736.7" rx="12.1" ry="6.6" transform="rotate(-8.9 1205.0 736.7)" fill="#2152d3" opacity="0.51"/>
<ellipse cx="1149.8" cy="756.7" rx="9.5" ry="3.3" transform="rotate(0.9 1149.8 756.7)" fill="#3440b2" opacity="0.75"/>
<ellipse cx="1198.0" cy="702.8" rx="19.3" ry="6.0" transform="rotate(-4.0 1198.0 702.8)" fill="#353eae" opacity="0.60"/>
<ellipse cx="1316.4" cy="957.1" rx="24.3" ry="11.4" transform="rotate(33.7 1316.4 957.1)" fill="#2e48c1" opacity="0.70"/>
<ellipse cx="1320.2" cy="874.9" rx="23.2" ry="5.5" transform="rotate(12.5 1320.2 874.9)" fill="#2a4cc9" opacity="0.60"/>
<ellipse cx="1224.3" cy="728.9" rx="11.5" ry="7.2" transform="rotate(-19.4 1224.3 728.9)" fill="#1486d4" opacity="0.50"/>
<ellipse cx="1249.7" cy="761.8" rx="16.3" ry="8.3" transform="rotate(-12.7 1249.7 761.8)" fill="#1481d5" opacity="0.74"/>
<ellipse cx="1181.3" cy="872.5" rx="13.5" ry="4.2" transform="rotate(45.6 1181.3 872.5)" fill="#1487d3" opacity="0.72"/>
<ellipse cx="1203.6" cy="713.9" rx="13.5" ry="5.2" transform="rotate(-9.7 1203.6 713.9)" fill="#137ed7" opacity="0.59"/>
<ellipse cx="1202.1" cy="804.8" rx="22.7" ry="5.7" transform="rotate(22.6 1202.1 804.8)" fill="#1486d4" opacity="0.66"/>
<ellipse cx="1345.6" cy="763.0" rx="14.6" ry="4.9" transform="rotate(-7.8 1345.6 763.0)" fill="#137fd6" opacity="0.47"/>
<ellipse cx="1309.0" cy="666.5" rx="21.6" ry="10.2" transform="rotate(-13.6 1309.0 666.5)" fill="#0d76dc" opacity="0.62"/>
<ellipse cx="1186.2" cy="785.6" rx="15.1" ry="5.2" transform="rotate(18.7 1186.2 785.6)" fill="#3639a5" opacity="0.51"/>
<ellipse cx="1246.9" cy="850.9" rx="15.1" ry="6.8" transform="rotate(7.4 1246.9 850.9)" fill="#353dad" opacity="0.82"/>
<ellipse cx="1409.1" cy="859.0" rx="25.3" ry="12.6" transform="rotate(3.0 1409.1 859.0)" fill="#1486d3" opacity="0.72"/>
<ellipse cx="1350.0" cy="874.6" rx="17.4" ry="5.0" transform="rotate(10.8 1350.0 874.6)" fill="#117ada" opacity="0.48"/>
<ellipse cx="1418.5" cy="846.8" rx="25.5" ry="7.6" transform="rotate(18.3 1418.5 846.8)" fill="#353eae" opacity="0.74"/>
<ellipse cx="1225.6" cy="867.6" rx="22.0" ry="6.3" transform="rotate(39.2 1225.6 867.6)" fill="#108fd2" opacity="0.45"/>
<ellipse cx="1331.9" cy="964.4" rx="25.9" ry="12.3" transform="rotate(32.4 1331.9 964.4)" fill="#36369e" opacity="0.59"/>
<ellipse cx="1148.2" cy="843.3" rx="22.8" ry="3.5" transform="rotate(22.8 1148.2 843.3)" fill="#1482d5" opacity="0.47"/>
<ellipse cx="1159.3" cy="793.1" rx="13.2" ry="3.4" transform="rotate(-0.9 1159.3 793.1)" fill="#3341b4" opacity="0.84"/>
<ellipse cx="1299.5" cy="897.4" rx="14.0" ry="6.6" transform="rotate(13.9 1299.5 897.4)" fill="#3144bb" opacity="0.67"/>
<ellipse cx="1332.8" cy="647.3" rx="13.1" ry="8.4" transform="rotate(-19.2 1332.8 647.3)" fill="#117bd9" opacity="0.68"/>
<ellipse cx="1348.1" cy="841.2" rx="19.4" ry="7.9" transform="rotate(22.4 1348.1 841.2)" fill="#118ed2" opacity="0.54"/>
<ellipse cx="1241.3" cy="890.0" rx="26.2" ry="5.9" transform="rotate(18.3 1241.3 890.0)" fill="#294cca" opacity="0.48"/>
<ellipse cx="1167.2" cy="822.9" rx="12.8" ry="3.6" transform="rotate(26.7 1167.2 822.9)" fill="#3046be" opacity="0.47"/>
<ellipse cx="1244.0" cy="865.5" rx="18.6" ry="5.8" transform="rotate(30.8 1244.0 865.5)" fill="#3637a2" opacity="0.67"/>
<ellipse cx="1347.6" cy="652.1" rx="22.5" ry="10.5" transform="rotate(-13.0 1347.6 652.1)" fill="#1484d4" opacity="0.83"/>
<ellipse cx="1371.1" cy="711.7" rx="21.6" ry="5.8" transform="rotate(-19.6 1371.1 711.7)" fill="#274ecc" opacity="0.52"/>
<ellipse cx="1346.7" cy="884.9" rx="29.7" ry="8.8" transform="rotate(6.8 1346.7 884.9)" fill="#3636a0" opacity="0.47"/>
<ellipse cx="1255.7" cy="893.0" rx="23.0" ry="5.6" transform="rotate(25.8 1255.7 893.0)" fill="#108fd2" opacity="0.59"/>
<ellipse cx="1110.8" cy="790.6" rx="17.1" ry="3.1" transform="rotate(16.9 1110.8 790.6)" fill="#264fcd" opacity="0.52"/>
<ellipse cx="1311.9" cy="725.4" rx="14.3" ry="6.4" transform="rotate(5.3 1311.9 725.4)" fill="#138ad3" opacity="0.63"/>
<ellipse cx="1307.9" cy="812.9" rx="22.4" ry="10.5" transform="rotate(12.6 1307.9 812.9)" fill="#108ed2" opacity="0.49"/>
<ellipse cx="1299.3" cy="694.0" rx="12.4" ry="8.0" transform="rotate(-13.0 1299.3 694.0)" fill="#1d54d6" opacity="0.80"/>
<ellipse cx="1235.6" cy="810.6" rx="20.1" ry="5.8" transform="rotate(19.4 1235.6 810.6)" fill="#353aa8" opacity="0.55"/>
<ellipse cx="1244.9" cy="823.4" rx="25.7" ry="7.4" transform="rotate(12.0 1244.9 823.4)" fill="#128bd2" opacity="0.51"/>
<ellipse cx="1316.2" cy="684.3" rx="14.2" ry="9.2" transform="rotate(-2.4 1316.2 684.3)" fill="#3639a6" opacity="0.53"/>
<ellipse cx="1273.0" cy="704.8" rx="22.8" ry="8.9" transform="rotate(-15.0 1273.0 704.8)" fill="#118cd2" opacity="0.45"/>
<ellipse cx="1347.3" cy="791.8" rx="19.3" ry="4.9" transform="rotate(0.0 1347.3 791.8)" fill="#3440b3" opacity="0.60"/>
<ellipse cx="1371.6" cy="807.7" rx="31.1" ry="11.5" transform="rotate(12.8 1371.6 807.7)" fill="#1c55d6" opacity="0.72"/>
<ellipse cx="1393.5" cy="785.9" rx="29.0" ry="8.9" transform="rotate(-2.2 1393.5 785.9)" fill="#2f46bf" opacity="0.48"/>
<ellipse cx="1249.2" cy="903.8" rx="24.9" ry="6.0" transform="rotate(42.4 1249.2 903.8)" fill="#294cc9" opacity="0.56"/>
<ellipse cx="1170.0" cy="740.1" rx="23.1" ry="7.4" transform="rotate(-1.5 1170.0 740.1)" fill="#1486d3" opacity="0.79"/>
<ellipse cx="1350.9" cy="710.5" rx="31.8" ry="6.4" transform="rotate(5.2 1350.9 710.5)" fill="#3244ba" opacity="0.67"/>
<ellipse cx="1092.6" cy="779.3" rx="15.3" ry="5.9" transform="rotate(23.8 1092.6 779.3)" fill="#363aa6" opacity="0.70"/>
<ellipse cx="1188.5" cy="801.5" rx="20.6" ry="5.2" transform="rotate(23.5 1188.5 801.5)" fill="#1483d5" opacity="0.54"/>
<ellipse cx="1248.2" cy="836.9" rx="13.8" ry="7.6" transform="rotate(24.9 1248.2 836.9)" fill="#118dd2" opacity="0.54"/>
<ellipse cx="1292.7" cy="939.3" rx="27.8" ry="7.5" transform="rotate(29.7 1292.7 939.3)" fill="#118dd2" opacity="0.66"/>
<ellipse cx="1258.6" cy="677.4" rx="28.8" ry="5.1" transform="rotate(-31.0 1258.6 677.4)" fill="#2f47c0" opacity="0.50"/>
<ellipse cx="1352.3" cy="773.9" rx="25.3" ry="9.1" transform="rotate(7.6 1352.3 773.9)" fill="#363aa7" opacity="0.74"/>
<ellipse cx="1275.5" cy="929.1" rx="18.6" ry="10.0" transform="rotate(35.9 1275.5 929.1)" fill="#108fd2" opacity="0.82"/>
<ellipse cx="1346.4" cy="898.3" rx="15.4" ry="6.3" transform="rotate(12.4 1346.4 898.3)" fill="#1481d5" opacity="0.49"/>
<ellipse cx="1318.3" cy="917.1" rx="28.5" ry="10.4" transform="rotate(35.0 1318.3 917.1)" fill="#294cc9" opacity="0.74"/>
<ellipse cx="1401.5" cy="622.5" rx="16.7" ry="6.1" transform="rotate(-31.2 1401.5 622.5)" fill="#0f8fd2" opacity="0.53"/>
<ellipse cx="1308.5" cy="832.6" rx="13.7" ry="7.0" transform="rotate(14.6 1308.5 832.6)" fill="#1388d3" opacity="0.60"/>
<ellipse cx="1308.8" cy="926.1" rx="23.2" ry="11.3" transform="rotate(41.0 1308.8 926.1)" fill="#2d49c5" opacity="0.48"/>
<ellipse cx="1373.5" cy="699.0" rx="23.9" ry="7.5" transform="rotate(-2.7 1373.5 699.0)" fill="#3638a3" opacity="0.82"/>
<ellipse cx="1261.0" cy="819.1" rx="25.3" ry="7.4" transform="rotate(7.2 1261.0 819.1)" fill="#2c4ac5" opacity="0.58"/>
<ellipse cx="1322.0" cy="677.2" rx="17.2" ry="9.0" transform="rotate(-26.5 1322.0 677.2)" fill="#3341b5" opacity="0.56"/>
<ellipse cx="1279.8" cy="918.4" rx="19.9" ry="10.5" transform="rotate(18.4 1279.8 918.4)" fill="#1483d5" opacity="0.59"/>
<ellipse cx="1098.6" cy="739.0" rx="7.7" ry="3.6" transform="rotate(-13.5 1098.6 739.0)" fill="#137ed7" opacity="0.60"/>
<ellipse cx="1157.0" cy="773.3" rx="15.0" ry="5.2" transform="rotate(-6.6 1157.0 773.3)" fill="#1d54d5" opacity="0.56"/>
<ellipse cx="1347.2" cy="629.0" rx="21.7" ry="10.4" transform="rotate(-22.7 1347.2 629.0)" fill="#36369f" opacity="0.69"/>
<ellipse cx="1345.0" cy="650.5" rx="13.4" ry="10.2" transform="rotate(-20.2 1345.0 650.5)" fill="#0e77db" opacity="0.80"/>
<ellipse cx="1405.9" cy="665.3" rx="31.8" ry="12.1" transform="rotate(-23.1 1405.9 665.3)" fill="#1b55d7" opacity="0.76"/>
<ellipse cx="1420.1" cy="837.7" rx="24.3" ry="7.5" transform="rotate(9.7 1420.1 837.7)" fill="#117bd9" opacity="0.56"/>
<ellipse cx="1200.2" cy="746.6" rx="10.7" ry="5.4" transform="rotate(7.3 1200.2 746.6)" fill="#3342b7" opacity="0.80"/>
<ellipse cx="1113.5" cy="808.6" rx="15.8" ry="3.4" transform="rotate(16.5 1113.5 808.6)" fill="#0f8fd2" opacity="0.82"/>
<ellipse cx="1130.3" cy="714.0" rx="11.9" ry="6.1" transform="rotate(-23.4 1130.3 714.0)" fill="#3341b5" opacity="0.76"/>
<ellipse cx="1297.7" cy="906.8" rx="14.1" ry="5.3" transform="rotate(30.6 1297.7 906.8)" fill="#1487d3" opacity="0.60"/>
<ellipse cx="1312.9" cy="835.5" rx="16.9" ry="8.2" transform="rotate(7.1 1312.9 835.5)" fill="#1e54d5" opacity="0.67"/>
<ellipse cx="1204.0" cy="732.8" rx="9.8" ry="7.4" transform="rotate(-9.9 1204.0 732.8)" fill="#2c4ac6" opacity="0.65"/>
<ellipse cx="1393.2" cy="756.3" rx="14.4" ry="7.9" transform="rotate(-4.8 1393.2 756.3)" fill="#3243ba" opacity="0.46"/>
<ellipse cx="1299.7" cy="855.7" rx="19.3" ry="7.8" transform="rotate(23.9 1299.7 855.7)" fill="#108ed2" opacity="0.82"/>
<ellipse cx="1403.0" cy="610.1" rx="36.7" ry="6.0" transform="rotate(-22.0 1403.0 610.1)" fill="#3639a6" opacity="0.74"/>
<ellipse cx="1297.1" cy="781.9" rx="22.2" ry="9.4" transform="rotate(-5.8 1297.1 781.9)" fill="#137dd8" opacity="0.59"/>
<ellipse cx="1341.8" cy="797.4" rx="13.8" ry="5.2" transform="rotate(1.9 1341.8 797.4)" fill="#3342b7" opacity="0.51"/>
<ellipse cx="1240.6" cy="665.9" rx="24.0" ry="5.4" transform="rotate(-12.4 1240.6 665.9)" fill="#284dcb" opacity="0.70"/>
<ellipse cx="1349.9" cy="837.1" rx="31.6" ry="7.8" transform="rotate(23.7 1349.9 837.1)" fill="#353cab" opacity="0.52"/>
<ellipse cx="1139.5" cy="830.4" rx="8.8" ry="3.3" transform="rotate(36.5 1139.5 830.4)" fill="#1483d4" opacity="0.65"/>
<ellipse cx="1141.0" cy="720.6" rx="18.5" ry="5.7" transform="rotate(-12.8 1141.0 720.6)" fill="#3638a3" opacity="0.54"/>
<ellipse cx="1182.2" cy="693.0" rx="10.9" ry="3.7" transform="rotate(-21.6 1182.2 693.0)" fill="#2d49c5" opacity="0.71"/>
<ellipse cx="1361.8" cy="649.3" rx="31.9" ry="5.8" transform="rotate(-10.0 1361.8 649.3)" fill="#2e48c2" opacity="0.55"/>
<ellipse cx="1085.0" cy="786.1" rx="18.0" ry="4.2" transform="rotate(8.2 1085.0 786.1)" fill="#1482d5" opacity="0.54"/>
<ellipse cx="1397.5" cy="903.0" rx="22.5" ry="5.9" transform="rotate(17.9 1397.5 903.0)" fill="#3637a1" opacity="0.70"/>
<ellipse cx="1224.3" cy="748.7" rx="21.5" ry="6.0" transform="rotate(-0.8 1224.3 748.7)" fill="#3243b9" opacity="0.81"/>
<ellipse cx="1232.2" cy="876.1" rx="27.0" ry="7.1" transform="rotate(31.5 1232.2 876.1)" fill="#3145bc" opacity="0.62"/>
<ellipse cx="1394.7" cy="685.3" rx="19.7" ry="7.8" transform="rotate(0.1 1394.7 685.3)" fill="#3638a2" opacity="0.56"/>
<ellipse cx="1360.9" cy="749.6" rx="29.5" ry="7.1" transform="rotate(-12.8 1360.9 749.6)" fill="#1078da" opacity="0.70"/>
<ellipse cx="1337.1" cy="674.6" rx="20.7" ry="9.0" transform="rotate(-8.0 1337.1 674.6)" fill="#1d54d5" opacity="0.55"/>
<ellipse cx="1274.7" cy="814.6" rx="24.6" ry="6.6" transform="rotate(21.8 1274.7 814.6)" fill="#3636a0" opacity="0.48"/>
<ellipse cx="1216.2" cy="827.8" rx="25.2" ry="6.4" transform="rotate(6.6 1216.2 827.8)" fill="#138ad3" opacity="0.62"/>
<ellipse cx="1124.2" cy="809.0" rx="9.6" ry="5.0" transform="rotate(34.3 1124.2 809.0)" fill="#353dad" opacity="0.83"/>
<ellipse cx="1187.9" cy="785.7" rx="17.7" ry="3.8" transform="rotate(21.6 1187.9 785.7)" fill="#1078da" opacity="0.67"/>
<ellipse cx="1257.9" cy="803.3" rx="18.5" ry="5.2" transform="rotate(10.1 1257.9 803.3)" fill="#1d54d5" opacity="0.82"/>
<ellipse cx="1411.0" cy="706.0" rx="20.0" ry="34.0" transform="rotate(10.0 1411.0 706.0)" fill="#363aa7" opacity="0.90"/>
<ellipse cx="1392.0" cy="813.0" rx="26.0" ry="12.0" transform="rotate(20.0 1392.0 813.0)" fill="#363aa7" opacity="0.90"/>
<ellipse cx="1241.0" cy="707.0" rx="16.0" ry="5.0" transform="rotate(-5.0 1241.0 707.0)" fill="#363aa7" opacity="0.80"/>
<ellipse cx="1252.0" cy="668.5" rx="16.0" ry="5.0" transform="rotate(-8.0 1252.0 668.5)" fill="#363aa7" opacity="0.80"/>
<ellipse cx="1370.0" cy="756.0" rx="13.0" ry="7.0" transform="rotate(0.0 1370.0 756.0)" fill="#363aa7" opacity="0.85"/>
<ellipse cx="1241.0" cy="772.0" rx="32.0" ry="6.0" transform="rotate(8.0 1241.0 772.0)" fill="#294cca" opacity="0.80"/>
<ellipse cx="1173.0" cy="786.0" rx="20.0" ry="4.0" transform="rotate(14.0 1173.0 786.0)" fill="#294cca" opacity="0.80"/>
<ellipse cx="1228.0" cy="838.0" rx="16.0" ry="9.0" transform="rotate(30.0 1228.0 838.0)" fill="#363aa7" opacity="0.80"/>
<ellipse cx="1321.0" cy="898.0" rx="16.0" ry="10.0" transform="rotate(30.0 1321.0 898.0)" fill="#363aa7" opacity="0.85"/>
<ellipse cx="1329.0" cy="964.0" rx="13.0" ry="8.0" transform="rotate(40.0 1329.0 964.0)" fill="#363aa7" opacity="0.85"/>
<ellipse cx="1105.0" cy="805.0" rx="14.0" ry="3.0" transform="rotate(22.0 1105.0 805.0)" fill="#294cca" opacity="0.80"/>
<ellipse cx="1405.0" cy="871.0" rx="9.0" ry="18.0" transform="rotate(15.0 1405.0 871.0)" fill="#363aa7" opacity="0.80"/>
<ellipse cx="1337.0" cy="819.0" rx="10.0" ry="7.0" transform="rotate(20.0 1337.0 819.0)" fill="#363aa7" opacity="0.80"/>
<ellipse cx="1318.0" cy="676.7" rx="20.0" ry="7.0" transform="rotate(-12.0 1318.0 676.7)" fill="#07aac1" opacity="0.90"/>
<ellipse cx="1282.0" cy="727.5" rx="34.0" ry="5.5" transform="rotate(-6.0 1282.0 727.5)" fill="#07aac1" opacity="0.95"/>
<ellipse cx="1290.0" cy="727.0" rx="12.0" ry="4.0" transform="rotate(-6.0 1290.0 727.0)" fill="#33b8a1" opacity="0.90"/>
<ellipse cx="1178.6" cy="723.0" rx="26.0" ry="7.0" transform="rotate(-8.0 1178.6 723.0)" fill="#0998d1" opacity="0.80"/>
<ellipse cx="1400.0" cy="780.6" rx="14.0" ry="14.0" transform="rotate(0.0 1400.0 780.6)" fill="#0998d1" opacity="0.85"/>
<ellipse cx="1187.0" cy="841.0" rx="32.0" ry="3.5" transform="rotate(27.0 1187.0 841.0)" fill="#07aac1" opacity="0.90"/>
<ellipse cx="1290.7" cy="884.6" rx="22.0" ry="8.0" transform="rotate(28.0 1290.7 884.6)" fill="#07aac1" opacity="0.90"/>
<ellipse cx="1252.0" cy="868.0" rx="13.0" ry="5.0" transform="rotate(28.0 1252.0 868.0)" fill="#0998d1" opacity="0.80"/>
<ellipse cx="1353.6" cy="920.0" rx="13.0" ry="10.0" transform="rotate(35.0 1353.6 920.0)" fill="#0998d1" opacity="0.80"/>
<ellipse cx="1397.0" cy="630.0" rx="9.0" ry="10.0" transform="rotate(-25.0 1397.0 630.0)" fill="#0998d1" opacity="0.80"/>
<ellipse cx="1372.8" cy="663.0" rx="13.0" ry="10.0" transform="rotate(-15.0 1372.8 663.0)" fill="#0998d1" opacity="0.80"/>
<ellipse cx="1310.0" cy="802.5" rx="16.0" ry="7.0" transform="rotate(8.0 1310.0 802.5)" fill="#0998d1" opacity="0.80"/>
</g></g>
<path d="M1068.9,730.7 L1395.7,585.5 A429.4,429.4 0 0 1 1351.6,1011.0 L1061.5,801.8 A71.8,71.8 0 0 0 1068.9,730.7 Z" fill="none" stroke="#036ae1" stroke-width="0.6" opacity="0.6"/>
<g clip-path="url(#bxh)" fill="none" stroke="#5c5c5c" stroke-width="1.15" stroke-dasharray="4.8 2.8 1.4 2.8" style="mix-blend-mode:multiply">
<ellipse cx="1003.3" cy="759.8" rx="71.5" ry="71.2"/>
<ellipse cx="1003.3" cy="759.8" rx="142.9" ry="142.7"/>
<ellipse cx="1003.3" cy="759.8" rx="214.4" ry="213.9"/>
<ellipse cx="1003.3" cy="759.8" rx="285.8" ry="285.1"/>
<ellipse cx="1003.3" cy="759.8" rx="357.2" ry="359.2"/>
<ellipse cx="1003.3" cy="759.8" rx="428.7" ry="439.7"/>
<ellipse cx="1003.3" cy="759.8" rx="500.2" ry="527.3"/>
</g>
<path d="M970.2,759.8H1582.4" stroke="#2b2b2b" stroke-width="1.25" stroke-dasharray="2.5 1.9 0.9 2.2" fill="none" style="mix-blend-mode:multiply"/>
<path d="M1580.9,757.1999999999999L1585.0,759.8L1580.9,762.4Z" fill="#222"/>
<path d="M1003.3,759.8L1552.5,711.4" stroke="#cdc834" stroke-width="2.2" stroke-linecap="round" stroke-dasharray="14.2 8.1 0.3 8.0" fill="none"/>
<path d="M1117.9,750.7 L1326.0,561.3 L1500.6,751.3 L1293.6,941.5Z" fill="none" stroke="#ff0000" stroke-width="2.2" stroke-dasharray="4.0 4.3" stroke-linecap="round"/><path d="M1275.2,749.8 L1311.7,718.1 L1343.2,751.7 L1307.8,785.0Z" fill="none" stroke="#ff0000" stroke-width="2.2" stroke-dasharray="4.0 4.3" stroke-linecap="round"/>
<rect x="1003.2" y="545.8" width="573.2" height="499.0" fill="none" stroke="#4d72a8" stroke-width="1.6"/>
<path d="M1074.8,1044.8v-5M1146.2,1044.8v-5M1217.7,1044.8v-5M1289.1,1044.8v-5M1360.5,1044.8v-5M1432.0,1044.8v-5M1503.5,1044.8v-5M1003.2,546.0h5M1003.2,617.3h5M1003.2,688.5h5M1003.2,831.0h5M1003.2,902.3h5M1003.2,973.5h5" stroke="#666" stroke-width="1.1" fill="none"/>
<text x="1003.3" y="1069.9" font-size="17.4" font-weight="bold" text-anchor="middle" fill="#262626" stroke="#262626" stroke-width="0.25">0</text>
<text x="1074.8" y="1069.9" font-size="17.4" font-weight="bold" text-anchor="middle" fill="#262626" stroke="#262626" stroke-width="0.25">100</text>
<text x="1146.2" y="1069.9" font-size="17.4" font-weight="bold" text-anchor="middle" fill="#262626" stroke="#262626" stroke-width="0.25">200</text>
<text x="1217.7" y="1069.9" font-size="17.4" font-weight="bold" text-anchor="middle" fill="#262626" stroke="#262626" stroke-width="0.25">300</text>
<text x="1289.1" y="1069.9" font-size="17.4" font-weight="bold" text-anchor="middle" fill="#262626" stroke="#262626" stroke-width="0.25">400</text>
<text x="1360.5" y="1069.9" font-size="17.4" font-weight="bold" text-anchor="middle" fill="#262626" stroke="#262626" stroke-width="0.25">500</text>
<text x="1432.0" y="1069.9" font-size="17.4" font-weight="bold" text-anchor="middle" fill="#262626" stroke="#262626" stroke-width="0.25">600</text>
<text x="1503.5" y="1069.9" font-size="17.4" font-weight="bold" text-anchor="middle" fill="#262626" stroke="#262626" stroke-width="0.25">700</text>
<text x="1574.9" y="1069.9" font-size="17.4" font-weight="bold" text-anchor="middle" fill="#262626" stroke="#262626" stroke-width="0.25">800</text>
<text x="996.9" y="554.1" font-size="17.4" font-weight="bold" text-anchor="end" fill="#262626" stroke="#262626" stroke-width="0.25">300</text>
<text x="996.9" y="625.3" font-size="17.4" font-weight="bold" text-anchor="end" fill="#262626" stroke="#262626" stroke-width="0.25">200</text>
<text x="996.9" y="696.6" font-size="17.4" font-weight="bold" text-anchor="end" fill="#262626" stroke="#262626" stroke-width="0.25">100</text>
<text x="996.9" y="767.8" font-size="17.4" font-weight="bold" text-anchor="end" fill="#262626" stroke="#262626" stroke-width="0.25">0</text>
<text x="996.9" y="839.1" font-size="17.4" font-weight="bold" text-anchor="end" fill="#262626" stroke="#262626" stroke-width="0.25">-100</text>
<text x="996.9" y="910.3" font-size="17.4" font-weight="bold" text-anchor="end" fill="#262626" stroke="#262626" stroke-width="0.25">-200</text>
<text x="996.9" y="981.6" font-size="17.4" font-weight="bold" text-anchor="end" fill="#262626" stroke="#262626" stroke-width="0.25">-300</text>
<text x="996.9" y="1052.8" font-size="17.4" font-weight="bold" text-anchor="end" fill="#262626" stroke="#262626" stroke-width="0.25">-400</text>
<text transform="translate(954.2,795.8) rotate(-90)" font-size="18" font-weight="bold" text-anchor="middle" fill="#262626" textLength="108.5" lengthAdjust="spacingAndGlyphs">Distance (m)</text>
<text x="1509.7" y="571.4" font-size="22" fill="#111" stroke="#111" stroke-width="0.3" textLength="62" lengthAdjust="spacingAndGlyphs">ng/m<tspan font-size="13.5" dy="-9">3</tspan></text>
<text x="1009.8" y="1033.0" font-size="45" font-weight="bold" fill="#000" textLength="53.0" lengthAdjust="spacingAndGlyphs">(h)</text>
<g transform="translate(1024.8,601.0) rotate(-42.7)"><path d="M0,-11.3 L32.1,-11.3 L32.1,-22.5 L54.7,0 L32.1,22.5 L32.1,11.3 L0,11.3Z" fill="#fff" stroke="#000" stroke-width="2" stroke-linejoin="miter"/><text transform="translate(21.3,0.3) rotate(0)" y="6.4" font-size="18" text-anchor="middle" fill="#000">N</text></g>
<rect x="1600.1" y="546.2" width="17.8" height="498.7" fill="url(#cbh)"/>
<text x="1623.1" y="1052.5" font-size="16.5" font-weight="bold" fill="#262626">0</text>
<text x="1623.1" y="969.4" font-size="16.5" font-weight="bold" fill="#262626">5</text>
<text x="1623.1" y="886.3" font-size="16.5" font-weight="bold" fill="#262626">10</text>
<text x="1623.1" y="803.2" font-size="16.5" font-weight="bold" fill="#262626">15</text>
<text x="1623.1" y="720.0" font-size="16.5" font-weight="bold" fill="#262626">20</text>
<text x="1623.1" y="636.9" font-size="16.5" font-weight="bold" fill="#262626">25</text>
<text x="1623.1" y="553.8" font-size="16.5" font-weight="bold" fill="#262626">30</text>
<path d="M1617.9,961.8h-4M1617.9,878.7h-4M1617.9,795.6h-4M1617.9,712.4h-4M1617.9,629.3h-4" stroke="#555" stroke-width="1" fill="none"/>

<g clip-path="url(#scl)"><path d="M1069.0,1278.7 L1396.7,1132.4 A430.8,430.8 0 0 1 1351.8,1561.2 L1061.5,1350.3 A72.0,72.0 0 0 0 1069.0,1278.7 Z" fill="#105bdd"/><g filter="url(#bll)">
<path d="M1069.0,1278.7 L1396.7,1132.4 A430.8,430.8 0 0 1 1351.8,1561.2 L1061.5,1350.3 A72.0,72.0 0 0 0 1069.0,1278.7 Z" fill="#105bdd" opacity="0"/>
<ellipse cx="1401.2" cy="1168.5" rx="52.7" ry="3.9" transform="rotate(-19.0 1401.2 1168.5)" fill="#036be1" opacity="0.60"/>
<ellipse cx="1287.0" cy="1436.4" rx="22.8" ry="2.2" transform="rotate(26.9 1287.0 1436.4)" fill="#353dad" opacity="0.72"/>
<ellipse cx="1381.3" cy="1342.7" rx="57.5" ry="4.2" transform="rotate(7.1 1381.3 1342.7)" fill="#36349c" opacity="0.80"/>
<ellipse cx="1270.4" cy="1199.8" rx="41.6" ry="3.7" transform="rotate(-24.3 1270.4 1199.8)" fill="#066fdf" opacity="0.58"/>
<ellipse cx="1376.2" cy="1357.4" rx="51.3" ry="2.8" transform="rotate(3.7 1376.2 1357.4)" fill="#353dac" opacity="0.68"/>
<ellipse cx="1228.3" cy="1256.8" rx="20.0" ry="2.3" transform="rotate(-12.0 1228.3 1256.8)" fill="#36359d" opacity="0.88"/>
<ellipse cx="1282.2" cy="1388.4" rx="49.2" ry="3.4" transform="rotate(13.2 1282.2 1388.4)" fill="#363aa6" opacity="0.59"/>
<ellipse cx="1370.4" cy="1237.2" rx="47.0" ry="5.2" transform="rotate(-9.8 1370.4 1237.2)" fill="#046de0" opacity="0.93"/>
<ellipse cx="1387.2" cy="1493.8" rx="27.3" ry="5.3" transform="rotate(28.1 1387.2 1493.8)" fill="#353cab" opacity="0.94"/>
<ellipse cx="1415.5" cy="1219.1" rx="59.7" ry="3.6" transform="rotate(-6.5 1415.5 1219.1)" fill="#2d49c4" opacity="0.70"/>
<ellipse cx="1159.1" cy="1378.3" rx="43.0" ry="3.5" transform="rotate(20.9 1159.1 1378.3)" fill="#3637a2" opacity="0.59"/>
<ellipse cx="1222.6" cy="1324.4" rx="26.3" ry="2.6" transform="rotate(9.1 1222.6 1324.4)" fill="#3145bc" opacity="0.73"/>
<ellipse cx="1399.7" cy="1417.0" rx="56.1" ry="3.8" transform="rotate(17.7 1399.7 1417.0)" fill="#0e76dc" opacity="0.88"/>
<ellipse cx="1250.4" cy="1298.0" rx="45.2" ry="3.2" transform="rotate(-1.7 1250.4 1298.0)" fill="#353cab" opacity="0.88"/>
<ellipse cx="1314.7" cy="1483.0" rx="57.6" ry="2.9" transform="rotate(34.8 1314.7 1483.0)" fill="#343fb1" opacity="0.58"/>
<ellipse cx="1339.3" cy="1321.5" rx="41.3" ry="3.4" transform="rotate(4.9 1339.3 1321.5)" fill="#343fb1" opacity="0.55"/>
<ellipse cx="1383.0" cy="1397.9" rx="33.6" ry="4.5" transform="rotate(9.4 1383.0 1397.9)" fill="#2f46bf" opacity="0.73"/>
<ellipse cx="1175.0" cy="1340.2" rx="36.3" ry="2.6" transform="rotate(11.3 1175.0 1340.2)" fill="#0870df" opacity="0.76"/>
<ellipse cx="1395.3" cy="1435.8" rx="64.0" ry="4.1" transform="rotate(21.4 1395.3 1435.8)" fill="#2f46bf" opacity="0.82"/>
<ellipse cx="1269.2" cy="1306.8" rx="30.6" ry="4.4" transform="rotate(-2.2 1269.2 1306.8)" fill="#353ba8" opacity="0.71"/>
<ellipse cx="1392.7" cy="1382.2" rx="36.1" ry="3.2" transform="rotate(5.9 1392.7 1382.2)" fill="#343fb1" opacity="0.64"/>
<ellipse cx="1382.2" cy="1446.5" rx="45.6" ry="2.7" transform="rotate(20.9 1382.2 1446.5)" fill="#36369e" opacity="0.73"/>
<ellipse cx="1249.0" cy="1240.5" rx="53.0" ry="3.4" transform="rotate(-20.8 1249.0 1240.5)" fill="#056de0" opacity="0.87"/>
<ellipse cx="1275.1" cy="1403.6" rx="24.2" ry="3.9" transform="rotate(18.1 1275.1 1403.6)" fill="#3045bd" opacity="0.82"/>
<ellipse cx="1167.0" cy="1362.2" rx="21.3" ry="3.5" transform="rotate(23.3 1167.0 1362.2)" fill="#0a73dd" opacity="0.62"/>
<ellipse cx="1293.3" cy="1508.5" rx="42.3" ry="4.4" transform="rotate(35.5 1293.3 1508.5)" fill="#3243b9" opacity="0.86"/>
<ellipse cx="1344.8" cy="1228.1" rx="28.7" ry="2.4" transform="rotate(-8.9 1344.8 1228.1)" fill="#363aa7" opacity="0.63"/>
<ellipse cx="1272.9" cy="1357.4" rx="50.6" ry="3.0" transform="rotate(8.7 1272.9 1357.4)" fill="#343fb0" opacity="0.81"/>
<ellipse cx="1416.0" cy="1245.7" rx="69.7" ry="5.8" transform="rotate(-13.0 1416.0 1245.7)" fill="#2f47bf" opacity="0.70"/>
<ellipse cx="1396.1" cy="1236.4" rx="56.7" ry="4.9" transform="rotate(-9.9 1396.1 1236.4)" fill="#353caa" opacity="0.63"/>
<ellipse cx="1158.9" cy="1339.8" rx="38.7" ry="2.6" transform="rotate(10.5 1158.9 1339.8)" fill="#353cab" opacity="0.65"/>
<ellipse cx="1353.3" cy="1415.1" rx="57.9" ry="4.0" transform="rotate(22.6 1353.3 1415.1)" fill="#3637a1" opacity="0.76"/>
<ellipse cx="1310.0" cy="1300.9" rx="58.3" ry="3.9" transform="rotate(-2.2 1310.0 1300.9)" fill="#2e47c1" opacity="0.58"/>
<ellipse cx="1290.7" cy="1234.9" rx="22.5" ry="3.0" transform="rotate(-8.6 1290.7 1234.9)" fill="#36349c" opacity="0.85"/>
<ellipse cx="1366.5" cy="1267.0" rx="48.8" ry="2.4" transform="rotate(-5.4 1366.5 1267.0)" fill="#3637a0" opacity="0.76"/>
<ellipse cx="1200.0" cy="1319.9" rx="21.8" ry="3.0" transform="rotate(1.2 1200.0 1319.9)" fill="#353dad" opacity="0.80"/>
<ellipse cx="1350.6" cy="1253.5" rx="37.4" ry="5.2" transform="rotate(-11.7 1350.6 1253.5)" fill="#3637a2" opacity="0.66"/>
<ellipse cx="1338.5" cy="1345.6" rx="60.7" ry="2.1" transform="rotate(9.9 1338.5 1345.6)" fill="#056ee0" opacity="0.78"/>
<ellipse cx="1205.5" cy="1242.7" rx="38.8" ry="1.9" transform="rotate(-12.9 1205.5 1242.7)" fill="#0e77db" opacity="0.94"/>
<ellipse cx="1351.2" cy="1502.4" rx="59.7" ry="4.7" transform="rotate(34.7 1351.2 1502.4)" fill="#36359d" opacity="0.80"/>
<ellipse cx="1261.4" cy="1332.0" rx="42.0" ry="4.1" transform="rotate(1.7 1261.4 1332.0)" fill="#2d49c4" opacity="0.84"/>
<ellipse cx="1169.3" cy="1285.2" rx="22.4" ry="1.6" transform="rotate(-5.9 1169.3 1285.2)" fill="#046ce0" opacity="0.61"/>
<ellipse cx="1072.0" cy="1279.7" rx="25.3" ry="2.0" transform="rotate(-18.8 1072.0 1279.7)" fill="#0c74dd" opacity="0.80"/>
<ellipse cx="1351.4" cy="1489.2" rx="47.0" ry="5.3" transform="rotate(26.5 1351.4 1489.2)" fill="#3440b2" opacity="0.89"/>
<ellipse cx="1240.9" cy="1450.4" rx="50.0" ry="2.4" transform="rotate(34.6 1240.9 1450.4)" fill="#0a72de" opacity="0.87"/>
<ellipse cx="1186.6" cy="1402.5" rx="36.7" ry="2.6" transform="rotate(27.4 1186.6 1402.5)" fill="#2d49c3" opacity="0.87"/>
<ellipse cx="1337.2" cy="1335.3" rx="54.1" ry="4.6" transform="rotate(1.9 1337.2 1335.3)" fill="#2e48c1" opacity="0.79"/>
<ellipse cx="1369.5" cy="1221.7" rx="29.7" ry="3.9" transform="rotate(-15.0 1369.5 1221.7)" fill="#0e76dc" opacity="0.63"/>
<ellipse cx="1429.0" cy="1352.4" rx="37.5" ry="3.7" transform="rotate(10.6 1429.0 1352.4)" fill="#036be1" opacity="0.73"/>
<ellipse cx="1306.6" cy="1457.8" rx="46.2" ry="5.1" transform="rotate(29.6 1306.6 1457.8)" fill="#36349b" opacity="0.84"/>
<ellipse cx="1308.0" cy="1461.3" rx="40.7" ry="2.2" transform="rotate(31.8 1308.0 1461.3)" fill="#3244ba" opacity="0.66"/>
<ellipse cx="1316.7" cy="1262.8" rx="25.5" ry="3.2" transform="rotate(-8.4 1316.7 1262.8)" fill="#066edf" opacity="0.87"/>
<ellipse cx="1360.7" cy="1382.3" rx="31.1" ry="5.0" transform="rotate(17.1 1360.7 1382.3)" fill="#3243b9" opacity="0.56"/>
<ellipse cx="1378.1" cy="1205.0" rx="56.1" ry="4.8" transform="rotate(-13.8 1378.1 1205.0)" fill="#036be0" opacity="0.94"/>
<ellipse cx="1338.1" cy="1181.9" rx="35.8" ry="3.8" transform="rotate(-20.4 1338.1 1181.9)" fill="#036ce0" opacity="0.93"/>
<ellipse cx="1358.0" cy="1295.0" rx="39.7" ry="4.5" transform="rotate(-0.9 1358.0 1295.0)" fill="#2e48c2" opacity="0.71"/>
<ellipse cx="1208.2" cy="1365.2" rx="27.4" ry="1.8" transform="rotate(15.4 1208.2 1365.2)" fill="#353aa8" opacity="0.69"/>
<ellipse cx="1370.4" cy="1178.8" rx="36.6" ry="2.6" transform="rotate(-18.1 1370.4 1178.8)" fill="#0d75dc" opacity="0.64"/>
<ellipse cx="1285.2" cy="1188.9" rx="25.1" ry="3.8" transform="rotate(-20.6 1285.2 1188.9)" fill="#046de0" opacity="0.65"/>
<ellipse cx="1405.2" cy="1166.2" rx="70.7" ry="2.9" transform="rotate(-16.7 1405.2 1166.2)" fill="#0e77db" opacity="0.85"/>
<ellipse cx="1281.9" cy="1269.7" rx="51.0" ry="2.0" transform="rotate(-9.3 1281.9 1269.7)" fill="#3440b2" opacity="0.68"/>
<ellipse cx="1194.1" cy="1269.6" rx="20.8" ry="2.5" transform="rotate(-7.0 1194.1 1269.6)" fill="#36369e" opacity="0.69"/>
<ellipse cx="1320.9" cy="1489.7" rx="54.8" ry="3.6" transform="rotate(32.6 1320.9 1489.7)" fill="#343fb2" opacity="0.80"/>
<ellipse cx="1375.7" cy="1208.5" rx="36.7" ry="3.9" transform="rotate(-11.7 1375.7 1208.5)" fill="#0c74dd" opacity="0.86"/>
<ellipse cx="1401.3" cy="1254.0" rx="53.2" ry="2.4" transform="rotate(-8.0 1401.3 1254.0)" fill="#0971de" opacity="0.84"/>
<ellipse cx="1384.8" cy="1179.3" rx="64.0" ry="4.6" transform="rotate(-22.3 1384.8 1179.3)" fill="#3638a3" opacity="0.57"/>
<ellipse cx="1333.7" cy="1209.9" rx="46.5" ry="4.4" transform="rotate(-12.9 1333.7 1209.9)" fill="#2d49c4" opacity="0.65"/>
<ellipse cx="1223.5" cy="1326.0" rx="43.4" ry="1.9" transform="rotate(1.1 1223.5 1326.0)" fill="#353cac" opacity="0.70"/>
<ellipse cx="1247.6" cy="1483.6" rx="28.1" ry="4.3" transform="rotate(32.4 1247.6 1483.6)" fill="#0d76dc" opacity="0.65"/>
<ellipse cx="1269.8" cy="1297.8" rx="26.2" ry="2.3" transform="rotate(2.7 1269.8 1297.8)" fill="#36359d" opacity="0.57"/>
<ellipse cx="1240.2" cy="1322.9" rx="31.2" ry="3.5" transform="rotate(-2.1 1240.2 1322.9)" fill="#0269e1" opacity="0.71"/>
<ellipse cx="1312.1" cy="1398.7" rx="55.5" ry="2.8" transform="rotate(19.6 1312.1 1398.7)" fill="#36359d" opacity="0.60"/>
<ellipse cx="1202.1" cy="1423.7" rx="23.2" ry="1.9" transform="rotate(34.4 1202.1 1423.7)" fill="#3638a4" opacity="0.76"/>
<ellipse cx="1329.3" cy="1343.5" rx="24.2" ry="4.0" transform="rotate(0.3 1329.3 1343.5)" fill="#036ae1" opacity="0.75"/>
<ellipse cx="1406.1" cy="1297.8" rx="39.0" ry="4.3" transform="rotate(-7.0 1406.1 1297.8)" fill="#353caa" opacity="0.85"/>
<ellipse cx="1318.3" cy="1185.6" rx="56.1" ry="4.6" transform="rotate(-21.4 1318.3 1185.6)" fill="#0d75dc" opacity="0.59"/>
<ellipse cx="1396.9" cy="1227.6" rx="67.9" ry="4.4" transform="rotate(-13.8 1396.9 1227.6)" fill="#056ee0" opacity="0.86"/>
<ellipse cx="1232.6" cy="1402.7" rx="48.5" ry="2.7" transform="rotate(23.3 1232.6 1402.7)" fill="#036ae1" opacity="0.83"/>
<ellipse cx="1231.9" cy="1233.8" rx="26.5" ry="2.8" transform="rotate(-22.7 1231.9 1233.8)" fill="#343eaf" opacity="0.59"/>
<ellipse cx="1156.9" cy="1313.3" rx="18.4" ry="3.0" transform="rotate(6.8 1156.9 1313.3)" fill="#353baa" opacity="0.56"/>
<ellipse cx="1220.8" cy="1260.6" rx="42.1" ry="3.9" transform="rotate(-15.2 1220.8 1260.6)" fill="#036ae1" opacity="0.62"/>
<ellipse cx="1393.4" cy="1416.3" rx="65.0" ry="4.9" transform="rotate(21.0 1393.4 1416.3)" fill="#046ce0" opacity="0.94"/>
<ellipse cx="1342.2" cy="1475.9" rx="47.0" ry="3.0" transform="rotate(23.0 1342.2 1475.9)" fill="#3637a1" opacity="0.69"/>
<ellipse cx="1414.8" cy="1368.9" rx="57.9" ry="3.0" transform="rotate(12.1 1414.8 1368.9)" fill="#343fb1" opacity="0.86"/>
<ellipse cx="1308.5" cy="1239.0" rx="39.2" ry="3.9" transform="rotate(-7.3 1308.5 1239.0)" fill="#36359c" opacity="0.91"/>
<ellipse cx="1373.4" cy="1411.2" rx="53.5" ry="3.3" transform="rotate(20.1 1373.4 1411.2)" fill="#0e77db" opacity="0.56"/>
<ellipse cx="1318.1" cy="1318.9" rx="29.6" ry="2.5" transform="rotate(-3.6 1318.1 1318.9)" fill="#0a72de" opacity="0.85"/>
<ellipse cx="1289.4" cy="1253.0" rx="28.2" ry="3.4" transform="rotate(-12.8 1289.4 1253.0)" fill="#343fb1" opacity="0.68"/>
<ellipse cx="1253.2" cy="1284.4" rx="51.3" ry="2.1" transform="rotate(-7.7 1253.2 1284.4)" fill="#343fb1" opacity="0.66"/>
<ellipse cx="1311.9" cy="1402.5" rx="49.9" ry="3.3" transform="rotate(17.9 1311.9 1402.5)" fill="#046ce0" opacity="0.75"/>
<ellipse cx="1227.4" cy="1307.5" rx="43.5" ry="3.1" transform="rotate(-1.2 1227.4 1307.5)" fill="#353caa" opacity="0.94"/>
<ellipse cx="1106.6" cy="1356.5" rx="16.5" ry="2.6" transform="rotate(20.2 1106.6 1356.5)" fill="#3342b7" opacity="0.67"/>
<ellipse cx="1127.0" cy="1305.2" rx="33.0" ry="2.0" transform="rotate(3.6 1127.0 1305.2)" fill="#2d49c4" opacity="0.78"/>
<ellipse cx="1279.1" cy="1246.7" rx="47.9" ry="3.8" transform="rotate(-16.7 1279.1 1246.7)" fill="#3342b7" opacity="0.72"/>
<ellipse cx="1237.5" cy="1378.9" rx="24.0" ry="2.6" transform="rotate(11.1 1237.5 1378.9)" fill="#3243b9" opacity="0.83"/>
<ellipse cx="1175.6" cy="1303.6" rx="37.9" ry="3.2" transform="rotate(1.0 1175.6 1303.6)" fill="#0f77db" opacity="0.56"/>
<ellipse cx="1235.8" cy="1390.4" rx="39.1" ry="2.6" transform="rotate(22.5 1235.8 1390.4)" fill="#3341b5" opacity="0.64"/>
<ellipse cx="1186.4" cy="1371.3" rx="32.0" ry="3.2" transform="rotate(23.5 1186.4 1371.3)" fill="#3046be" opacity="0.82"/>
<ellipse cx="1415.3" cy="1412.8" rx="66.2" ry="4.8" transform="rotate(12.5 1415.3 1412.8)" fill="#353cab" opacity="0.88"/>
<ellipse cx="1375.6" cy="1246.6" rx="51.9" ry="5.0" transform="rotate(-9.2 1375.6 1246.6)" fill="#3342b6" opacity="0.92"/>
<ellipse cx="1237.8" cy="1278.7" rx="39.2" ry="2.5" transform="rotate(-1.1 1237.8 1278.7)" fill="#3637a2" opacity="0.69"/>
<ellipse cx="1395.8" cy="1229.8" rx="35.4" ry="3.6" transform="rotate(-12.0 1395.8 1229.8)" fill="#3440b2" opacity="0.83"/>
<ellipse cx="1218.3" cy="1328.7" rx="34.6" ry="2.7" transform="rotate(9.9 1218.3 1328.7)" fill="#343eaf" opacity="0.81"/>
<ellipse cx="1328.8" cy="1287.3" rx="48.6" ry="3.3" transform="rotate(-8.8 1328.8 1287.3)" fill="#353cab" opacity="0.64"/>
<ellipse cx="1131.0" cy="1389.7" rx="28.1" ry="1.8" transform="rotate(29.4 1131.0 1389.7)" fill="#353ba9" opacity="0.73"/>
<ellipse cx="1245.5" cy="1389.0" rx="21.7" ry="1.8" transform="rotate(17.9 1245.5 1389.0)" fill="#3244ba" opacity="0.91"/>
<ellipse cx="1292.0" cy="1298.6" rx="50.8" ry="4.2" transform="rotate(-7.4 1292.0 1298.6)" fill="#0b73dd" opacity="0.63"/>
<ellipse cx="1294.0" cy="1249.7" rx="55.7" ry="3.7" transform="rotate(-12.4 1294.0 1249.7)" fill="#036ae1" opacity="0.88"/>
<ellipse cx="1317.9" cy="1329.4" rx="27.5" ry="2.9" transform="rotate(-1.1 1317.9 1329.4)" fill="#3144bb" opacity="0.56"/>
<ellipse cx="1143.6" cy="1353.8" rx="16.0" ry="2.3" transform="rotate(15.5 1143.6 1353.8)" fill="#353ba8" opacity="0.64"/>
<ellipse cx="1281.8" cy="1325.3" rx="55.1" ry="2.5" transform="rotate(5.5 1281.8 1325.3)" fill="#2e48c1" opacity="0.78"/>
<ellipse cx="1316.4" cy="1428.1" rx="40.5" ry="2.2" transform="rotate(17.7 1316.4 1428.1)" fill="#3639a5" opacity="0.94"/>
<ellipse cx="1277.7" cy="1259.1" rx="50.8" ry="2.7" transform="rotate(-5.4 1277.7 1259.1)" fill="#066edf" opacity="0.73"/>
<ellipse cx="1200.0" cy="1251.0" rx="41.7" ry="3.6" transform="rotate(-20.5 1200.0 1251.0)" fill="#353aa8" opacity="0.71"/>
<ellipse cx="1151.4" cy="1378.7" rx="24.6" ry="2.3" transform="rotate(30.4 1151.4 1378.7)" fill="#36359c" opacity="0.81"/>
<ellipse cx="1277.9" cy="1261.8" rx="28.8" ry="1.9" transform="rotate(-12.2 1277.9 1261.8)" fill="#353cab" opacity="0.92"/>
<ellipse cx="1278.2" cy="1484.9" rx="23.9" ry="3.6" transform="rotate(35.5 1278.2 1484.9)" fill="#3244ba" opacity="0.73"/>
<ellipse cx="1368.2" cy="1495.9" rx="61.8" ry="5.4" transform="rotate(31.6 1368.2 1495.9)" fill="#2e48c1" opacity="0.70"/>
<ellipse cx="1321.3" cy="1299.6" rx="54.7" ry="2.9" transform="rotate(-0.8 1321.3 1299.6)" fill="#353ba9" opacity="0.58"/>
<ellipse cx="1349.6" cy="1527.0" rx="69.1" ry="4.8" transform="rotate(28.2 1349.6 1527.0)" fill="#353ba9" opacity="0.77"/>
<ellipse cx="1351.8" cy="1350.8" rx="61.4" ry="4.0" transform="rotate(7.6 1351.8 1350.8)" fill="#3639a5" opacity="0.83"/>
<ellipse cx="1224.4" cy="1272.9" rx="23.3" ry="2.4" transform="rotate(-3.1 1224.4 1272.9)" fill="#0870df" opacity="0.89"/>
<ellipse cx="1313.3" cy="1207.0" rx="50.8" ry="3.6" transform="rotate(-19.7 1313.3 1207.0)" fill="#353caa" opacity="0.94"/>
<ellipse cx="1146.7" cy="1322.9" rx="22.9" ry="2.2" transform="rotate(2.5 1146.7 1322.9)" fill="#036be1" opacity="0.73"/>
<ellipse cx="1332.0" cy="1363.5" rx="24.6" ry="2.8" transform="rotate(5.0 1332.0 1363.5)" fill="#3342b7" opacity="0.68"/>
<ellipse cx="1402.1" cy="1368.1" rx="32.2" ry="4.8" transform="rotate(12.7 1402.1 1368.1)" fill="#3145bc" opacity="0.94"/>
<ellipse cx="1159.7" cy="1312.1" rx="34.4" ry="3.4" transform="rotate(6.0 1159.7 1312.1)" fill="#353cac" opacity="0.58"/>
<ellipse cx="1322.3" cy="1478.6" rx="44.6" ry="3.9" transform="rotate(26.3 1322.3 1478.6)" fill="#3440b2" opacity="0.91"/>
<ellipse cx="1276.4" cy="1398.4" rx="25.7" ry="3.7" transform="rotate(12.6 1276.4 1398.4)" fill="#3639a6" opacity="0.65"/>
<ellipse cx="1397.3" cy="1221.7" rx="60.8" ry="4.5" transform="rotate(-10.9 1397.3 1221.7)" fill="#3243b9" opacity="0.85"/>
<ellipse cx="1270.0" cy="1388.3" rx="38.8" ry="3.3" transform="rotate(13.0 1270.0 1388.3)" fill="#3638a3" opacity="0.58"/>
<ellipse cx="1199.6" cy="1442.1" rx="45.6" ry="3.0" transform="rotate(36.1 1199.6 1442.1)" fill="#3341b4" opacity="0.72"/>
<ellipse cx="1329.8" cy="1507.0" rx="37.7" ry="4.5" transform="rotate(33.8 1329.8 1507.0)" fill="#046ce0" opacity="0.62"/>
<ellipse cx="1291.0" cy="1373.0" rx="26.5" ry="3.0" transform="rotate(17.8 1291.0 1373.0)" fill="#3145bd" opacity="0.62"/>
<ellipse cx="1356.2" cy="1474.6" rx="44.5" ry="2.5" transform="rotate(27.0 1356.2 1474.6)" fill="#353dae" opacity="0.66"/>
<ellipse cx="1415.6" cy="1377.0" rx="41.7" ry="3.4" transform="rotate(10.9 1415.6 1377.0)" fill="#353caa" opacity="0.84"/>
<ellipse cx="1087.1" cy="1354.3" rx="27.6" ry="1.4" transform="rotate(29.0 1087.1 1354.3)" fill="#3637a0" opacity="0.74"/>
<ellipse cx="1258.0" cy="1204.0" rx="43.7" ry="2.5" transform="rotate(-25.3 1258.0 1204.0)" fill="#353aa8" opacity="0.83"/>
<ellipse cx="1170.8" cy="1320.4" rx="24.7" ry="2.6" transform="rotate(3.7 1170.8 1320.4)" fill="#036be0" opacity="0.86"/>
<ellipse cx="1326.4" cy="1472.4" rx="52.5" ry="4.6" transform="rotate(22.3 1326.4 1472.4)" fill="#36369e" opacity="0.56"/>
<ellipse cx="1318.1" cy="1447.1" rx="23.8" ry="4.4" transform="rotate(27.5 1318.1 1447.1)" fill="#2e48c2" opacity="0.70"/>
<ellipse cx="1220.2" cy="1258.8" rx="45.5" ry="3.6" transform="rotate(-9.3 1220.2 1258.8)" fill="#0972de" opacity="0.90"/>
<ellipse cx="1130.2" cy="1355.8" rx="28.6" ry="2.3" transform="rotate(20.3 1130.2 1355.8)" fill="#3243b9" opacity="0.56"/>
<ellipse cx="1326.6" cy="1194.2" rx="58.2" ry="3.5" transform="rotate(-18.9 1326.6 1194.2)" fill="#353eae" opacity="0.87"/>
<ellipse cx="1358.2" cy="1488.6" rx="31.6" ry="4.0" transform="rotate(24.5 1358.2 1488.6)" fill="#363aa7" opacity="0.55"/>
<ellipse cx="1375.4" cy="1219.7" rx="41.8" ry="5.3" transform="rotate(-16.5 1375.4 1219.7)" fill="#0c74dd" opacity="0.65"/>
<ellipse cx="1367.4" cy="1358.3" rx="62.5" ry="2.2" transform="rotate(10.8 1367.4 1358.3)" fill="#36349c" opacity="0.74"/>
<ellipse cx="1380.1" cy="1160.2" rx="56.0" ry="3.2" transform="rotate(-27.2 1380.1 1160.2)" fill="#343fb1" opacity="0.95"/>
<ellipse cx="1395.7" cy="1331.3" rx="29.4" ry="3.1" transform="rotate(9.0 1395.7 1331.3)" fill="#36359c" opacity="0.88"/>
<ellipse cx="1299.3" cy="1406.2" rx="33.8" ry="3.5" transform="rotate(14.4 1299.3 1406.2)" fill="#0871de" opacity="0.78"/>
<ellipse cx="1285.4" cy="1481.1" rx="52.0" ry="3.6" transform="rotate(27.4 1285.4 1481.1)" fill="#36349b" opacity="0.71"/>
<ellipse cx="1278.3" cy="1223.4" rx="53.3" ry="3.6" transform="rotate(-17.4 1278.3 1223.4)" fill="#353dae" opacity="0.80"/>
<ellipse cx="1408.5" cy="1414.9" rx="47.8" ry="5.2" transform="rotate(18.0 1408.5 1414.9)" fill="#3638a3" opacity="0.81"/>
<ellipse cx="1322.5" cy="1537.2" rx="33.4" ry="3.0" transform="rotate(31.2 1322.5 1537.2)" fill="#036be0" opacity="0.61"/>
<ellipse cx="1372.6" cy="1346.0" rx="52.7" ry="4.9" transform="rotate(11.6 1372.6 1346.0)" fill="#343fb0" opacity="0.83"/>
<ellipse cx="1159.6" cy="1324.9" rx="42.3" ry="2.9" transform="rotate(1.7 1159.6 1324.9)" fill="#3637a1" opacity="0.69"/>
<ellipse cx="1353.7" cy="1374.0" rx="52.0" ry="3.4" transform="rotate(15.5 1353.7 1374.0)" fill="#066edf" opacity="0.75"/>
<ellipse cx="1344.3" cy="1248.5" rx="38.8" ry="3.5" transform="rotate(-8.4 1344.3 1248.5)" fill="#0c74dd" opacity="0.84"/>
<ellipse cx="1290.5" cy="1310.4" rx="34.7" ry="2.8" transform="rotate(-4.8 1290.5 1310.4)" fill="#343eaf" opacity="0.58"/>
<ellipse cx="1162.6" cy="1387.5" rx="28.3" ry="3.5" transform="rotate(28.8 1162.6 1387.5)" fill="#2d49c3" opacity="0.92"/>
<ellipse cx="1426.0" cy="1285.6" rx="26.2" ry="5.8" transform="rotate(-4.9 1426.0 1285.6)" fill="#036be1" opacity="0.81"/>
<ellipse cx="1403.4" cy="1154.2" rx="53.1" ry="4.9" transform="rotate(-25.9 1403.4 1154.2)" fill="#363aa7" opacity="0.87"/>
<ellipse cx="1243.7" cy="1480.0" rx="52.8" ry="4.4" transform="rotate(35.0 1243.7 1480.0)" fill="#0d76dc" opacity="0.72"/>
<ellipse cx="1330.7" cy="1349.8" rx="41.2" ry="2.1" transform="rotate(8.1 1330.7 1349.8)" fill="#353ba9" opacity="0.58"/>
<ellipse cx="1162.5" cy="1314.8" rx="37.0" ry="3.5" transform="rotate(5.6 1162.5 1314.8)" fill="#353dad" opacity="0.88"/>
<ellipse cx="1328.8" cy="1364.5" rx="55.6" ry="2.1" transform="rotate(12.1 1328.8 1364.5)" fill="#2d49c3" opacity="0.84"/>
<ellipse cx="1402.6" cy="1183.7" rx="36.5" ry="3.0" transform="rotate(-12.8 1402.6 1183.7)" fill="#353cab" opacity="0.85"/>
<ellipse cx="1271.6" cy="1242.7" rx="38.1" ry="2.7" transform="rotate(-16.1 1271.6 1242.7)" fill="#026ae1" opacity="0.95"/>
<ellipse cx="1347.1" cy="1554.2" rx="44.4" ry="5.6" transform="rotate(36.2 1347.1 1554.2)" fill="#0f77db" opacity="0.78"/>
<ellipse cx="1258.8" cy="1300.8" rx="20.8" ry="3.6" transform="rotate(-7.3 1258.8 1300.8)" fill="#3637a1" opacity="0.92"/>
<ellipse cx="1387.0" cy="1465.3" rx="40.8" ry="4.8" transform="rotate(18.5 1387.0 1465.3)" fill="#3243b8" opacity="0.64"/>
<ellipse cx="1405.6" cy="1453.6" rx="69.8" ry="5.7" transform="rotate(15.6 1405.6 1453.6)" fill="#066fdf" opacity="0.80"/>
<ellipse cx="1263.3" cy="1419.1" rx="41.7" ry="2.5" transform="rotate(21.1 1263.3 1419.1)" fill="#3638a3" opacity="0.61"/>
<ellipse cx="1368.1" cy="1439.8" rx="29.5" ry="2.3" transform="rotate(16.9 1368.1 1439.8)" fill="#2d49c3" opacity="0.76"/>
<ellipse cx="1288.9" cy="1396.9" rx="30.3" ry="4.4" transform="rotate(15.6 1288.9 1396.9)" fill="#0a73dd" opacity="0.78"/>
<ellipse cx="1375.7" cy="1403.1" rx="32.0" ry="2.5" transform="rotate(11.5 1375.7 1403.1)" fill="#353eaf" opacity="0.89"/>
<ellipse cx="1287.0" cy="1208.4" rx="56.0" ry="2.3" transform="rotate(-20.4 1287.0 1208.4)" fill="#3637a2" opacity="0.58"/>
<ellipse cx="1284.4" cy="1338.7" rx="38.7" ry="4.2" transform="rotate(8.3 1284.4 1338.7)" fill="#0f77db" opacity="0.74"/>
<ellipse cx="1139.6" cy="1283.6" rx="28.8" ry="2.7" transform="rotate(-8.9 1139.6 1283.6)" fill="#3045bd" opacity="0.89"/>
<ellipse cx="1211.8" cy="1387.2" rx="34.5" ry="3.5" transform="rotate(24.1 1211.8 1387.2)" fill="#2f46bf" opacity="0.69"/>
<ellipse cx="1389.9" cy="1252.8" rx="45.1" ry="3.8" transform="rotate(-11.6 1389.9 1252.8)" fill="#343eb0" opacity="0.78"/>
<ellipse cx="1247.6" cy="1241.4" rx="29.6" ry="4.2" transform="rotate(-12.5 1247.6 1241.4)" fill="#353ba9" opacity="0.58"/>
<ellipse cx="1286.4" cy="1332.8" rx="42.4" ry="2.9" transform="rotate(7.1 1286.4 1332.8)" fill="#36369e" opacity="0.60"/>
<ellipse cx="1313.2" cy="1334.8" rx="51.5" ry="3.5" transform="rotate(2.0 1313.2 1334.8)" fill="#36359c" opacity="0.62"/>
<ellipse cx="1113.1" cy="1283.3" rx="22.6" ry="3.0" transform="rotate(-17.0 1113.1 1283.3)" fill="#363aa6" opacity="0.62"/>
<ellipse cx="1239.8" cy="1474.3" rx="45.7" ry="4.5" transform="rotate(31.1 1239.8 1474.3)" fill="#36349b" opacity="0.79"/>
<ellipse cx="1210.6" cy="1225.8" rx="20.1" ry="3.0" transform="rotate(-17.6 1210.6 1225.8)" fill="#353eaf" opacity="0.90"/>
<ellipse cx="1300.5" cy="1472.8" rx="30.2" ry="3.9" transform="rotate(24.8 1300.5 1472.8)" fill="#353dac" opacity="0.82"/>
<ellipse cx="1075.1" cy="1350.3" rx="22.3" ry="2.0" transform="rotate(30.2 1075.1 1350.3)" fill="#066edf" opacity="0.56"/>
<ellipse cx="1419.4" cy="1211.9" rx="38.9" ry="4.7" transform="rotate(-12.7 1419.4 1211.9)" fill="#3639a5" opacity="0.77"/>
<ellipse cx="1258.1" cy="1305.2" rx="40.9" ry="3.4" transform="rotate(5.1 1258.1 1305.2)" fill="#343fb0" opacity="0.60"/>
<ellipse cx="1350.2" cy="1340.6" rx="33.1" ry="3.8" transform="rotate(7.8 1350.2 1340.6)" fill="#353ba9" opacity="0.66"/>
<ellipse cx="1236.1" cy="1341.7" rx="47.9" ry="2.6" transform="rotate(6.3 1236.1 1341.7)" fill="#2d49c4" opacity="0.62"/>
<ellipse cx="1403.0" cy="1187.5" rx="43.8" ry="3.2" transform="rotate(-14.8 1403.0 1187.5)" fill="#353dac" opacity="0.88"/>
<ellipse cx="1418.5" cy="1410.4" rx="57.3" ry="2.9" transform="rotate(12.8 1418.5 1410.4)" fill="#3638a4" opacity="0.78"/>
<ellipse cx="1175.1" cy="1387.4" rx="23.2" ry="2.6" transform="rotate(26.1 1175.1 1387.4)" fill="#3046be" opacity="0.62"/>
<ellipse cx="1398.3" cy="1402.8" rx="53.0" ry="2.3" transform="rotate(10.3 1398.3 1402.8)" fill="#0971de" opacity="0.69"/>
<ellipse cx="1267.5" cy="1475.7" rx="44.9" ry="3.5" transform="rotate(36.5 1267.5 1475.7)" fill="#3341b6" opacity="0.65"/>
<ellipse cx="1238.2" cy="1384.6" rx="34.6" ry="4.1" transform="rotate(17.9 1238.2 1384.6)" fill="#2f46bf" opacity="0.70"/>
<ellipse cx="1141.9" cy="1305.8" rx="27.9" ry="2.1" transform="rotate(1.0 1141.9 1305.8)" fill="#353ba8" opacity="0.81"/>
<ellipse cx="1272.5" cy="1501.7" rx="29.9" ry="4.5" transform="rotate(31.9 1272.5 1501.7)" fill="#353ba9" opacity="0.65"/>
<ellipse cx="1401.7" cy="1424.5" rx="35.3" ry="3.4" transform="rotate(20.2 1401.7 1424.5)" fill="#3636a0" opacity="0.55"/>
<ellipse cx="1354.6" cy="1445.4" rx="59.6" ry="3.7" transform="rotate(23.7 1354.6 1445.4)" fill="#3440b2" opacity="0.77"/>
<ellipse cx="1410.6" cy="1185.3" rx="58.1" ry="5.3" transform="rotate(-17.9 1410.6 1185.3)" fill="#3243b8" opacity="0.81"/>
<ellipse cx="1400.2" cy="1385.7" rx="49.2" ry="5.7" transform="rotate(13.9 1400.2 1385.7)" fill="#066edf" opacity="0.64"/>
<ellipse cx="1175.4" cy="1329.6" rx="21.6" ry="2.8" transform="rotate(10.3 1175.4 1329.6)" fill="#3145bc" opacity="0.93"/>
<ellipse cx="1158.4" cy="1336.4" rx="36.9" ry="3.2" transform="rotate(5.2 1158.4 1336.4)" fill="#3341b5" opacity="0.72"/>
<ellipse cx="1260.5" cy="1273.2" rx="31.1" ry="3.4" transform="rotate(-13.1 1260.5 1273.2)" fill="#0f77db" opacity="0.82"/>
<ellipse cx="1366.0" cy="1169.0" rx="24.9" ry="4.1" transform="rotate(-26.2 1366.0 1169.0)" fill="#2e48c1" opacity="0.71"/>
<ellipse cx="1190.4" cy="1375.0" rx="33.7" ry="1.9" transform="rotate(19.8 1190.4 1375.0)" fill="#0d75dc" opacity="0.64"/>
<ellipse cx="1369.2" cy="1327.8" rx="35.0" ry="2.8" transform="rotate(8.4 1369.2 1327.8)" fill="#046de0" opacity="0.87"/>
<ellipse cx="1300.6" cy="1387.0" rx="43.7" ry="3.1" transform="rotate(16.0 1300.6 1387.0)" fill="#0972de" opacity="0.55"/>
<ellipse cx="1365.5" cy="1480.0" rx="54.0" ry="3.8" transform="rotate(23.7 1365.5 1480.0)" fill="#0971de" opacity="0.78"/>
<ellipse cx="1410.1" cy="1230.5" rx="45.4" ry="5.0" transform="rotate(-6.3 1410.1 1230.5)" fill="#353dad" opacity="0.94"/>
<ellipse cx="1353.3" cy="1282.9" rx="24.2" ry="4.1" transform="rotate(-3.2 1353.3 1282.9)" fill="#36359c" opacity="0.57"/>
<ellipse cx="1357.7" cy="1200.6" rx="36.7" ry="4.0" transform="rotate(-18.9 1357.7 1200.6)" fill="#056de0" opacity="0.77"/>
<ellipse cx="1353.0" cy="1288.7" rx="33.6" ry="3.9" transform="rotate(-4.6 1353.0 1288.7)" fill="#2d49c4" opacity="0.56"/>
<ellipse cx="1353.7" cy="1400.5" rx="30.3" ry="4.2" transform="rotate(9.4 1353.7 1400.5)" fill="#076fdf" opacity="0.76"/>
<ellipse cx="1329.0" cy="1487.6" rx="38.4" ry="4.8" transform="rotate(29.0 1329.0 1487.6)" fill="#0c74dd" opacity="0.64"/>
<ellipse cx="1241.0" cy="1281.5" rx="19.4" ry="3.4" transform="rotate(-6.9 1241.0 1281.5)" fill="#0d75dc" opacity="0.57"/>
<ellipse cx="1349.4" cy="1354.3" rx="54.1" ry="2.9" transform="rotate(12.0 1349.4 1354.3)" fill="#3637a0" opacity="0.71"/>
<ellipse cx="1293.6" cy="1290.2" rx="31.6" ry="3.5" transform="rotate(-1.1 1293.6 1290.2)" fill="#3342b6" opacity="0.77"/>
<ellipse cx="1200.6" cy="1398.0" rx="28.8" ry="3.1" transform="rotate(30.1 1200.6 1398.0)" fill="#0e76dc" opacity="0.61"/>
<ellipse cx="1391.7" cy="1346.5" rx="58.8" ry="3.5" transform="rotate(2.3 1391.7 1346.5)" fill="#343fb2" opacity="0.68"/>
<ellipse cx="1300.4" cy="1398.8" rx="46.1" ry="4.0" transform="rotate(18.9 1300.4 1398.8)" fill="#3046bd" opacity="0.86"/>
<ellipse cx="1255.6" cy="1348.7" rx="52.5" ry="3.5" transform="rotate(10.8 1255.6 1348.7)" fill="#36369e" opacity="0.79"/>
<ellipse cx="1329.6" cy="1365.9" rx="39.3" ry="2.3" transform="rotate(15.4 1329.6 1365.9)" fill="#3342b7" opacity="0.76"/>
<ellipse cx="1207.6" cy="1450.3" rx="19.5" ry="2.8" transform="rotate(36.8 1207.6 1450.3)" fill="#353eae" opacity="0.82"/>
<ellipse cx="1366.6" cy="1409.0" rx="25.2" ry="2.8" transform="rotate(19.4 1366.6 1409.0)" fill="#36349b" opacity="0.68"/>
<ellipse cx="1363.2" cy="1189.5" rx="51.8" ry="4.4" transform="rotate(-14.5 1363.2 1189.5)" fill="#0e77db" opacity="0.82"/>
<ellipse cx="1366.0" cy="1374.0" rx="26.6" ry="5.2" transform="rotate(12.4 1366.0 1374.0)" fill="#3144bb" opacity="0.93"/>
<ellipse cx="1302.8" cy="1296.0" rx="24.8" ry="4.3" transform="rotate(-6.3 1302.8 1296.0)" fill="#353dac" opacity="0.64"/>
<ellipse cx="1359.6" cy="1411.7" rx="48.5" ry="3.2" transform="rotate(12.4 1359.6 1411.7)" fill="#363aa6" opacity="0.87"/>
<ellipse cx="1369.1" cy="1364.5" rx="31.6" ry="4.0" transform="rotate(4.9 1369.1 1364.5)" fill="#2d49c4" opacity="0.68"/>
<ellipse cx="1328.1" cy="1247.0" rx="56.6" ry="4.8" transform="rotate(-12.7 1328.1 1247.0)" fill="#036be0" opacity="0.92"/>
<ellipse cx="1355.9" cy="1432.1" rx="50.5" ry="5.0" transform="rotate(17.3 1355.9 1432.1)" fill="#343eb0" opacity="0.58"/>
<ellipse cx="1363.3" cy="1432.7" rx="52.1" ry="3.6" transform="rotate(23.7 1363.3 1432.7)" fill="#353dad" opacity="0.71"/>
<ellipse cx="1407.7" cy="1357.5" rx="55.1" ry="4.6" transform="rotate(6.3 1407.7 1357.5)" fill="#353baa" opacity="0.73"/>
<ellipse cx="1394.7" cy="1178.3" rx="26.1" ry="2.7" transform="rotate(-20.2 1394.7 1178.3)" fill="#353cac" opacity="0.70"/>
<ellipse cx="1208.6" cy="1286.4" rx="21.5" ry="2.1" transform="rotate(-7.8 1208.6 1286.4)" fill="#3046be" opacity="0.78"/>
<ellipse cx="1223.6" cy="1226.5" rx="45.7" ry="4.0" transform="rotate(-15.5 1223.6 1226.5)" fill="#3440b3" opacity="0.62"/>
<ellipse cx="1146.6" cy="1348.8" rx="27.4" ry="2.6" transform="rotate(21.2 1146.6 1348.8)" fill="#353caa" opacity="0.60"/>
<ellipse cx="1350.6" cy="1169.2" rx="29.3" ry="2.4" transform="rotate(-19.9 1350.6 1169.2)" fill="#3342b7" opacity="0.61"/>
<ellipse cx="1309.1" cy="1287.9" rx="44.5" ry="2.2" transform="rotate(0.6 1309.1 1287.9)" fill="#056ee0" opacity="0.87"/>
<ellipse cx="1353.5" cy="1396.3" rx="33.5" ry="5.2" transform="rotate(9.6 1353.5 1396.3)" fill="#3341b4" opacity="0.56"/>
<ellipse cx="1355.7" cy="1198.3" rx="42.3" ry="4.5" transform="rotate(-22.4 1355.7 1198.3)" fill="#36359d" opacity="0.87"/>
<ellipse cx="1202.0" cy="1309.9" rx="41.6" ry="2.8" transform="rotate(4.6 1202.0 1309.9)" fill="#353cab" opacity="0.85"/>
<ellipse cx="1234.0" cy="1332.6" rx="39.2" ry="3.7" transform="rotate(2.3 1234.0 1332.6)" fill="#056ee0" opacity="0.57"/>
<ellipse cx="1375.2" cy="1234.4" rx="50.5" ry="4.1" transform="rotate(-7.0 1375.2 1234.4)" fill="#363aa6" opacity="0.74"/>
<ellipse cx="1354.3" cy="1468.4" rx="30.7" ry="3.1" transform="rotate(20.0 1354.3 1468.4)" fill="#3639a5" opacity="0.61"/>
<ellipse cx="1194.4" cy="1324.5" rx="22.6" ry="3.2" transform="rotate(-0.8 1194.4 1324.5)" fill="#3342b7" opacity="0.67"/>
<ellipse cx="1302.6" cy="1460.3" rx="39.9" ry="4.7" transform="rotate(21.7 1302.6 1460.3)" fill="#3243b9" opacity="0.79"/>
<ellipse cx="1241.2" cy="1458.3" rx="22.8" ry="4.6" transform="rotate(26.4 1241.2 1458.3)" fill="#046de0" opacity="0.79"/>
<ellipse cx="1317.2" cy="1467.4" rx="60.5" ry="4.2" transform="rotate(22.4 1317.2 1467.4)" fill="#036be0" opacity="0.63"/>
<ellipse cx="1384.2" cy="1392.6" rx="62.2" ry="4.3" transform="rotate(6.9 1384.2 1392.6)" fill="#046ce0" opacity="0.76"/>
<ellipse cx="1327.5" cy="1419.8" rx="26.1" ry="2.3" transform="rotate(19.5 1327.5 1419.8)" fill="#036be0" opacity="0.84"/>
<ellipse cx="1358.4" cy="1435.2" rx="28.4" ry="2.2" transform="rotate(15.0 1358.4 1435.2)" fill="#0870df" opacity="0.85"/>
<ellipse cx="1105.0" cy="1284.8" rx="21.0" ry="2.9" transform="rotate(-9.4 1105.0 1284.8)" fill="#2e47c1" opacity="0.63"/>
<ellipse cx="1367.9" cy="1475.4" rx="26.0" ry="4.6" transform="rotate(26.8 1367.9 1475.4)" fill="#36349b" opacity="0.62"/>
<ellipse cx="1273.6" cy="1218.6" rx="44.2" ry="4.0" transform="rotate(-14.0 1273.6 1218.6)" fill="#3638a3" opacity="0.58"/>
<ellipse cx="1383.0" cy="1190.0" rx="26.0" ry="9.0" transform="rotate(-22.0 1383.0 1190.0)" fill="#3637a1" opacity="0.85"/>
<ellipse cx="1300.0" cy="1426.0" rx="26.0" ry="6.0" transform="rotate(30.0 1300.0 1426.0)" fill="#3637a1" opacity="0.90"/>
<ellipse cx="1340.0" cy="1427.0" rx="22.0" ry="5.0" transform="rotate(25.0 1340.0 1427.0)" fill="#3637a1" opacity="0.85"/>
<ellipse cx="1250.0" cy="1262.0" rx="26.0" ry="4.0" transform="rotate(-12.0 1250.0 1262.0)" fill="#3637a1" opacity="0.80"/>
<ellipse cx="1170.0" cy="1253.0" rx="22.0" ry="3.5" transform="rotate(-15.0 1170.0 1253.0)" fill="#3637a1" opacity="0.80"/>
<ellipse cx="1330.0" cy="1286.0" rx="30.0" ry="4.0" transform="rotate(-5.0 1330.0 1286.0)" fill="#3637a1" opacity="0.85"/>
<ellipse cx="1310.0" cy="1512.0" rx="10.0" ry="12.0" transform="rotate(45.0 1310.0 1512.0)" fill="#3637a1" opacity="0.85"/>
<ellipse cx="1245.0" cy="1450.0" rx="10.0" ry="8.0" transform="rotate(40.0 1245.0 1450.0)" fill="#3637a1" opacity="0.80"/>
<ellipse cx="1380.0" cy="1218.0" rx="24.0" ry="7.0" transform="rotate(-18.0 1380.0 1218.0)" fill="#137fd6" opacity="0.85"/>
<ellipse cx="1320.0" cy="1212.0" rx="30.0" ry="5.0" transform="rotate(-18.0 1320.0 1212.0)" fill="#137fd6" opacity="0.70"/>
<ellipse cx="1200.0" cy="1262.0" rx="28.0" ry="4.0" transform="rotate(-14.0 1200.0 1262.0)" fill="#137fd6" opacity="0.70"/>
<ellipse cx="1265.0" cy="1460.0" rx="30.0" ry="4.0" transform="rotate(32.0 1265.0 1460.0)" fill="#137fd6" opacity="0.80"/>
<ellipse cx="1400.0" cy="1432.0" rx="6.0" ry="14.0" transform="rotate(20.0 1400.0 1432.0)" fill="#118dd2" opacity="0.70"/>
<ellipse cx="1290.0" cy="1299.0" rx="30.0" ry="3.0" transform="rotate(-3.0 1290.0 1299.0)" fill="#137fd6" opacity="0.70"/>
</g></g>
<path d="M1069.0,1278.7 L1396.7,1132.4 A430.8,430.8 0 0 1 1351.8,1561.2 L1061.5,1350.3 A72.0,72.0 0 0 0 1069.0,1278.7 Z" fill="none" stroke="#105bdd" stroke-width="0.6" opacity="0.6"/>
<g clip-path="url(#bxl)" fill="none" stroke="#5c5c5c" stroke-width="1.15" stroke-dasharray="4.8 2.8 1.4 2.8" style="mix-blend-mode:multiply">
<ellipse cx="1003.3" cy="1308.0" rx="71.8" ry="72.0"/>
<ellipse cx="1003.3" cy="1308.0" rx="143.7" ry="144.1"/>
<ellipse cx="1003.3" cy="1308.0" rx="215.5" ry="216.0"/>
<ellipse cx="1003.3" cy="1308.0" rx="287.4" ry="287.9"/>
<ellipse cx="1003.3" cy="1308.0" rx="359.2" ry="362.7"/>
<ellipse cx="1003.3" cy="1308.0" rx="431.1" ry="444.0"/>
<ellipse cx="1003.3" cy="1308.0" rx="502.9" ry="532.5"/>
</g>
<path d="M970.2,1308.0H1584.2" stroke="#2b2b2b" stroke-width="1.25" stroke-dasharray="2.5 1.9 0.9 2.2" fill="none" style="mix-blend-mode:multiply"/>
<path d="M1582.7,1305.4L1586.8,1308.0L1582.7,1310.6Z" fill="#222"/>
<path d="M1003.3,1308.0L1555.5,1279.3" stroke="#cdc834" stroke-width="2.2" stroke-linecap="round" stroke-dasharray="14.2 8.1 0.3 8.0" fill="none"/>
<path d="M1138.5,1292.1 L1353.0,1106.5 L1520.6,1305.0 L1306.5,1489.3Z" fill="none" stroke="#ff0000" stroke-width="2.2" stroke-dasharray="4.0 4.3" stroke-linecap="round"/><path d="M1298.0,1291.6 L1330.2,1264.9 L1363.2,1304.0 L1329.3,1331.7Z" fill="none" stroke="#ff0000" stroke-width="2.2" stroke-dasharray="4.0 4.3" stroke-linecap="round"/>
<rect x="1003.2" y="1092.0" width="575.0" height="503.8" fill="none" stroke="#4d72a8" stroke-width="1.6"/>
<path d="M1075.1,1595.8v-5M1147.0,1595.8v-5M1218.8,1595.8v-5M1290.7,1595.8v-5M1362.5,1595.8v-5M1434.4,1595.8v-5M1506.2,1595.8v-5M1003.2,1092.2h5M1003.2,1164.1h5M1003.2,1236.0h5M1003.2,1380.0h5M1003.2,1451.9h5M1003.2,1523.8h5" stroke="#666" stroke-width="1.1" fill="none"/>
<text x="1003.3" y="1621.3" font-size="18.0" font-weight="bold" text-anchor="middle" fill="#262626" stroke="#262626" stroke-width="0.25">0</text>
<text x="1075.1" y="1621.3" font-size="18.0" font-weight="bold" text-anchor="middle" fill="#262626" stroke="#262626" stroke-width="0.25">100</text>
<text x="1147.0" y="1621.3" font-size="18.0" font-weight="bold" text-anchor="middle" fill="#262626" stroke="#262626" stroke-width="0.25">200</text>
<text x="1218.8" y="1621.3" font-size="18.0" font-weight="bold" text-anchor="middle" fill="#262626" stroke="#262626" stroke-width="0.25">300</text>
<text x="1290.7" y="1621.3" font-size="18.0" font-weight="bold" text-anchor="middle" fill="#262626" stroke="#262626" stroke-width="0.25">400</text>
<text x="1362.5" y="1621.3" font-size="18.0" font-weight="bold" text-anchor="middle" fill="#262626" stroke="#262626" stroke-width="0.25">500</text>
<text x="1434.4" y="1621.3" font-size="18.0" font-weight="bold" text-anchor="middle" fill="#262626" stroke="#262626" stroke-width="0.25">600</text>
<text x="1506.2" y="1621.3" font-size="18.0" font-weight="bold" text-anchor="middle" fill="#262626" stroke="#262626" stroke-width="0.25">700</text>
<text x="1578.1" y="1621.3" font-size="18.0" font-weight="bold" text-anchor="middle" fill="#262626" stroke="#262626" stroke-width="0.25">800</text>
<text x="996.9" y="1100.4" font-size="18.0" font-weight="bold" text-anchor="end" fill="#262626" stroke="#262626" stroke-width="0.25">300</text>
<text x="996.9" y="1172.3" font-size="18.0" font-weight="bold" text-anchor="end" fill="#262626" stroke="#262626" stroke-width="0.25">200</text>
<text x="996.9" y="1244.3" font-size="18.0" font-weight="bold" text-anchor="end" fill="#262626" stroke="#262626" stroke-width="0.25">100</text>
<text x="996.9" y="1316.2" font-size="18.0" font-weight="bold" text-anchor="end" fill="#262626" stroke="#262626" stroke-width="0.25">0</text>
<text x="996.9" y="1388.2" font-size="18.0" font-weight="bold" text-anchor="end" fill="#262626" stroke="#262626" stroke-width="0.25">-100</text>
<text x="996.9" y="1460.1" font-size="18.0" font-weight="bold" text-anchor="end" fill="#262626" stroke="#262626" stroke-width="0.25">-200</text>
<text x="996.9" y="1532.1" font-size="18.0" font-weight="bold" text-anchor="end" fill="#262626" stroke="#262626" stroke-width="0.25">-300</text>
<text x="996.9" y="1604.0" font-size="18.0" font-weight="bold" text-anchor="end" fill="#262626" stroke="#262626" stroke-width="0.25">-400</text>
<text transform="translate(954.2,1344.0) rotate(-90)" font-size="18" font-weight="bold" text-anchor="middle" fill="#262626" textLength="108.5" lengthAdjust="spacingAndGlyphs">Distance (m)</text>
<text x="1236.3" y="1644.8" font-size="18" font-weight="bold" fill="#262626" textLength="109" lengthAdjust="spacingAndGlyphs">Distance (m)</text>
<text x="1512.1000000000001" y="1114.1" font-size="22" fill="#111" stroke="#111" stroke-width="0.3" textLength="62" lengthAdjust="spacingAndGlyphs">ng/m<tspan font-size="13.5" dy="-9">3</tspan></text>
<text x="1009.8" y="1568.5" font-size="45" font-weight="bold" fill="#000" textLength="38.6" lengthAdjust="spacingAndGlyphs">(l)</text>
<g transform="translate(1068.7,1142.0) rotate(-146.3)"><path d="M0,-11.3 L32.1,-11.3 L32.1,-22.5 L54.7,0 L32.1,22.5 L32.1,11.3 L0,11.3Z" fill="#fff" stroke="#000" stroke-width="2" stroke-linejoin="miter"/><text transform="translate(21.3,0.3) rotate(180)" y="6.4" font-size="18" text-anchor="middle" fill="#000">N</text></g>
<rect x="1603.0" y="1091.8" width="17.5" height="504.2" fill="url(#cbl)"/>
<text x="1625.7" y="1603.6" font-size="16.5" font-weight="bold" fill="#262626">0</text>
<text x="1625.7" y="1519.6" font-size="16.5" font-weight="bold" fill="#262626">5</text>
<text x="1625.7" y="1435.5" font-size="16.5" font-weight="bold" fill="#262626">10</text>
<text x="1625.7" y="1351.5" font-size="16.5" font-weight="bold" fill="#262626">15</text>
<text x="1625.7" y="1267.5" font-size="16.5" font-weight="bold" fill="#262626">20</text>
<text x="1625.7" y="1183.4" font-size="16.5" font-weight="bold" fill="#262626">25</text>
<text x="1625.7" y="1099.4" font-size="16.5" font-weight="bold" fill="#262626">30</text>
<path d="M1620.5,1512.0h-4M1620.5,1427.9h-4M1620.5,1343.9h-4M1620.5,1259.9h-4M1620.5,1175.8h-4" stroke="#555" stroke-width="1" fill="none"/>

</svg>
</body></html>
